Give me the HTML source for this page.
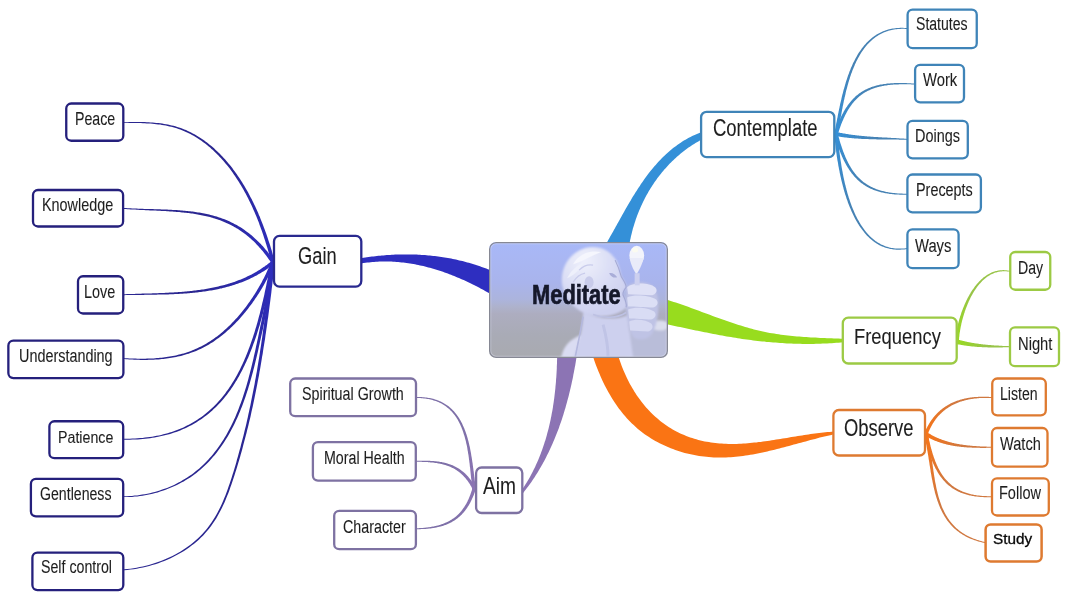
<!DOCTYPE html><html><head><meta charset="utf-8"><style>
html,body{margin:0;padding:0;background:#fff;}
body{width:1067px;height:600px;position:relative;overflow:hidden;font-family:"Liberation Sans",sans-serif;}
.b{position:absolute;background:#fff;box-sizing:content-box;}
.t{position:absolute;white-space:nowrap;color:#1e1e1e;line-height:normal;transform-origin:0 0;-webkit-text-stroke:0.1px #1e1e1e;}
#med{position:absolute;left:489px;top:241.8px;width:179.2px;height:115.8px;border-radius:7px;overflow:hidden;}
#med:after{content:"";position:absolute;inset:0;border-radius:7px;box-shadow:inset 0 0 0 1.3px #868894,inset 0 0 0 2.3px rgba(235,238,255,0.35);}
#med svg{position:absolute;left:0;top:0;}
svg#lines{position:absolute;left:0;top:0;}
</style></head><body>
<svg id="lines" width="1067" height="600" viewBox="0 0 1067 600"><defs><linearGradient id="g0" gradientUnits="userSpaceOnUse" x1="122.5" y1="122.4" x2="273.6" y2="264.1"><stop offset="0" stop-color="#2a2690"/><stop offset="0.45" stop-color="#2a2690"/><stop offset="1" stop-color="#2e2ec0"/></linearGradient><linearGradient id="g1" gradientUnits="userSpaceOnUse" x1="123.0" y1="208.4" x2="273.9" y2="263.6"><stop offset="0" stop-color="#2a2690"/><stop offset="0.45" stop-color="#2a2690"/><stop offset="1" stop-color="#2e2ec0"/></linearGradient><linearGradient id="g2" gradientUnits="userSpaceOnUse" x1="123.0" y1="294.8" x2="273.9" y2="261.4"><stop offset="0" stop-color="#2a2690"/><stop offset="0.45" stop-color="#2a2690"/><stop offset="1" stop-color="#2e2ec0"/></linearGradient><linearGradient id="g3" gradientUnits="userSpaceOnUse" x1="123.0" y1="358.5" x2="273.5" y2="260.8"><stop offset="0" stop-color="#2a2690"/><stop offset="0.45" stop-color="#2a2690"/><stop offset="1" stop-color="#2e2ec0"/></linearGradient><linearGradient id="g4" gradientUnits="userSpaceOnUse" x1="123.0" y1="439.2" x2="273.0" y2="260.5"><stop offset="0" stop-color="#2a2690"/><stop offset="0.45" stop-color="#2a2690"/><stop offset="1" stop-color="#2e2ec0"/></linearGradient><linearGradient id="g5" gradientUnits="userSpaceOnUse" x1="122.8" y1="496.7" x2="272.8" y2="261.5"><stop offset="0" stop-color="#2a2690"/><stop offset="0.45" stop-color="#2a2690"/><stop offset="1" stop-color="#2e2ec0"/></linearGradient><linearGradient id="g6" gradientUnits="userSpaceOnUse" x1="122.6" y1="569.9" x2="273.1" y2="261.5"><stop offset="0" stop-color="#2a2690"/><stop offset="0.45" stop-color="#2a2690"/><stop offset="1" stop-color="#2e2ec0"/></linearGradient><linearGradient id="g7" gradientUnits="userSpaceOnUse" x1="415.0" y1="397.5" x2="474.3" y2="490.5"><stop offset="0" stop-color="#7e70a8"/><stop offset="0.45" stop-color="#7e70a8"/><stop offset="1" stop-color="#8c74b4"/></linearGradient><linearGradient id="g8" gradientUnits="userSpaceOnUse" x1="415.0" y1="461.3" x2="475.2" y2="490.2"><stop offset="0" stop-color="#7e70a8"/><stop offset="0.45" stop-color="#7e70a8"/><stop offset="1" stop-color="#8c74b4"/></linearGradient><linearGradient id="g9" gradientUnits="userSpaceOnUse" x1="415.0" y1="528.8" x2="474.7" y2="486.6"><stop offset="0" stop-color="#7e70a8"/><stop offset="0.45" stop-color="#7e70a8"/><stop offset="1" stop-color="#8c74b4"/></linearGradient><linearGradient id="g10" gradientUnits="userSpaceOnUse" x1="908.5" y1="28.6" x2="835.5" y2="136.5"><stop offset="0" stop-color="#4682b4"/><stop offset="0.45" stop-color="#4682b4"/><stop offset="1" stop-color="#3490d8"/></linearGradient><linearGradient id="g11" gradientUnits="userSpaceOnUse" x1="915.5" y1="84.1" x2="835.2" y2="136.4"><stop offset="0" stop-color="#4682b4"/><stop offset="0.45" stop-color="#4682b4"/><stop offset="1" stop-color="#3490d8"/></linearGradient><linearGradient id="g12" gradientUnits="userSpaceOnUse" x1="909.0" y1="139.5" x2="833.6" y2="133.5"><stop offset="0" stop-color="#4682b4"/><stop offset="0.45" stop-color="#4682b4"/><stop offset="1" stop-color="#3490d8"/></linearGradient><linearGradient id="g13" gradientUnits="userSpaceOnUse" x1="909.0" y1="194.2" x2="835.3" y2="131.6"><stop offset="0" stop-color="#4682b4"/><stop offset="0.45" stop-color="#4682b4"/><stop offset="1" stop-color="#3490d8"/></linearGradient><linearGradient id="g14" gradientUnits="userSpaceOnUse" x1="908.5" y1="248.3" x2="835.8" y2="131.5"><stop offset="0" stop-color="#4682b4"/><stop offset="0.45" stop-color="#4682b4"/><stop offset="1" stop-color="#3490d8"/></linearGradient><linearGradient id="g15" gradientUnits="userSpaceOnUse" x1="1011.2" y1="271.6" x2="956.9" y2="344.2"><stop offset="0" stop-color="#98c448"/><stop offset="0.45" stop-color="#98c448"/><stop offset="1" stop-color="#98dc1e"/></linearGradient><linearGradient id="g16" gradientUnits="userSpaceOnUse" x1="1011.2" y1="346.7" x2="954.6" y2="341.1"><stop offset="0" stop-color="#98c448"/><stop offset="0.45" stop-color="#98c448"/><stop offset="1" stop-color="#98dc1e"/></linearGradient><linearGradient id="g17" gradientUnits="userSpaceOnUse" x1="993.0" y1="397.6" x2="925.1" y2="436.3"><stop offset="0" stop-color="#d07840"/><stop offset="0.45" stop-color="#d07840"/><stop offset="1" stop-color="#fa7414"/></linearGradient><linearGradient id="g18" gradientUnits="userSpaceOnUse" x1="993.0" y1="447.3" x2="923.9" y2="432.7"><stop offset="0" stop-color="#d07840"/><stop offset="0.45" stop-color="#d07840"/><stop offset="1" stop-color="#fa7414"/></linearGradient><linearGradient id="g19" gradientUnits="userSpaceOnUse" x1="993.1" y1="496.7" x2="925.5" y2="431.6"><stop offset="0" stop-color="#d07840"/><stop offset="0.45" stop-color="#d07840"/><stop offset="1" stop-color="#fa7414"/></linearGradient><linearGradient id="g20" gradientUnits="userSpaceOnUse" x1="986.5" y1="542.8" x2="925.5" y2="431.6"><stop offset="0" stop-color="#d07840"/><stop offset="0.45" stop-color="#d07840"/><stop offset="1" stop-color="#fa7414"/></linearGradient></defs><path d="M362.0,258.1 L363.6,257.8 L365.3,257.5 L366.9,257.3 L368.6,257.0 L370.2,256.8 L371.9,256.6 L373.5,256.4 L375.2,256.2 L376.9,256.0 L378.5,255.8 L380.2,255.7 L381.8,255.5 L383.5,255.4 L385.1,255.2 L386.8,255.1 L388.5,255.0 L390.1,254.9 L391.8,254.8 L393.4,254.7 L395.1,254.6 L396.8,254.6 L398.4,254.5 L400.1,254.5 L401.7,254.4 L403.4,254.4 L405.1,254.4 L406.7,254.4 L408.4,254.4 L410.0,254.4 L411.7,254.5 L413.3,254.5 L415.0,254.6 L416.7,254.6 L418.3,254.7 L420.0,254.8 L421.6,254.9 L423.3,255.0 L424.9,255.1 L426.6,255.2 L428.2,255.4 L429.9,255.5 L431.5,255.7 L433.2,255.9 L434.8,256.1 L436.5,256.3 L438.1,256.5 L439.7,256.7 L441.4,257.0 L443.0,257.2 L444.6,257.5 L446.3,257.7 L447.9,258.0 L449.5,258.3 L451.2,258.6 L452.8,259.0 L454.4,259.3 L456.0,259.6 L457.6,260.0 L459.3,260.4 L460.9,260.7 L462.5,261.1 L464.1,261.5 L465.7,262.0 L467.3,262.4 L468.9,262.8 L470.5,263.3 L472.1,263.8 L473.7,264.3 L475.3,264.8 L476.8,265.3 L478.4,265.8 L480.0,266.3 L481.6,266.9 L483.2,267.4 L484.7,268.0 L486.3,268.6 L487.8,269.2 L489.4,269.8 L491.0,270.4 L491.0,294.2 L489.5,293.4 L488.0,292.5 L486.5,291.7 L485.1,290.9 L483.6,290.0 L482.1,289.2 L480.5,288.4 L479.0,287.6 L477.5,286.8 L476.0,286.0 L474.5,285.3 L472.9,284.5 L471.4,283.7 L469.9,283.0 L468.3,282.3 L466.8,281.5 L465.2,280.8 L463.7,280.1 L462.1,279.4 L460.5,278.7 L459.0,278.0 L457.4,277.4 L455.8,276.7 L454.2,276.0 L452.6,275.4 L451.0,274.8 L449.4,274.2 L447.8,273.6 L446.2,273.0 L444.6,272.4 L443.0,271.8 L441.4,271.3 L439.8,270.7 L438.1,270.2 L436.5,269.7 L434.9,269.2 L433.2,268.7 L431.6,268.3 L430.0,267.8 L428.3,267.4 L426.7,266.9 L425.0,266.5 L423.4,266.1 L421.7,265.7 L420.0,265.4 L418.4,265.0 L416.7,264.7 L415.0,264.3 L413.4,264.0 L411.7,263.7 L410.0,263.5 L408.3,263.2 L406.6,263.0 L405.0,262.8 L403.3,262.5 L401.6,262.4 L399.9,262.2 L398.2,262.0 L396.5,261.9 L394.8,261.8 L393.1,261.7 L391.4,261.6 L389.6,261.6 L387.9,261.5 L386.2,261.5 L384.5,261.5 L382.8,261.5 L381.1,261.5 L379.3,261.6 L377.6,261.7 L375.9,261.8 L374.1,261.9 L372.4,262.0 L370.7,262.2 L369.0,262.4 L367.2,262.6 L365.5,262.8 L363.7,263.0 L362.0,263.3 Z" fill="#2e2ec0"/><path d="M606.6,242.9 L607.5,241.4 L608.4,239.8 L609.3,238.2 L610.2,236.6 L611.1,234.9 L612.1,233.3 L613.0,231.7 L613.9,230.1 L614.8,228.4 L615.7,226.8 L616.6,225.2 L617.5,223.5 L618.4,221.9 L619.4,220.2 L620.3,218.6 L621.2,216.9 L622.1,215.2 L623.1,213.6 L624.0,211.9 L624.9,210.3 L625.9,208.6 L626.8,207.0 L627.8,205.3 L628.7,203.7 L629.7,202.0 L630.7,200.4 L631.6,198.8 L632.6,197.1 L633.6,195.5 L634.6,193.9 L635.6,192.3 L636.7,190.7 L637.7,189.1 L638.7,187.5 L639.8,185.9 L640.8,184.3 L641.9,182.7 L643.0,181.2 L644.1,179.6 L645.2,178.1 L646.3,176.6 L647.4,175.1 L648.5,173.6 L649.7,172.1 L650.9,170.6 L652.0,169.2 L653.2,167.7 L654.4,166.3 L655.7,164.9 L656.9,163.5 L658.2,162.1 L659.4,160.7 L660.7,159.4 L662.0,158.1 L663.3,156.8 L664.7,155.5 L666.0,154.2 L667.4,152.9 L668.8,151.7 L670.2,150.5 L671.7,149.3 L673.1,148.1 L674.6,147.0 L676.1,145.9 L677.6,144.8 L679.1,143.7 L680.7,142.7 L682.3,141.6 L683.9,140.6 L685.5,139.7 L687.1,138.7 L688.8,137.8 L690.5,136.9 L692.2,136.1 L694.0,135.2 L695.8,134.4 L697.5,133.7 L699.4,132.9 L701.2,132.2 L701.3,139.7 L699.8,140.5 L698.3,141.4 L696.9,142.2 L695.5,143.1 L694.1,144.0 L692.7,144.8 L691.3,145.8 L689.9,146.7 L688.5,147.6 L687.2,148.6 L685.9,149.6 L684.6,150.6 L683.3,151.6 L682.0,152.6 L680.7,153.6 L679.4,154.7 L678.2,155.7 L676.9,156.8 L675.7,157.9 L674.5,159.0 L673.3,160.2 L672.1,161.3 L671.0,162.4 L669.8,163.6 L668.7,164.8 L667.6,166.0 L666.5,167.2 L665.4,168.4 L664.3,169.6 L663.2,170.9 L662.2,172.1 L661.1,173.4 L660.1,174.7 L659.1,175.9 L658.1,177.2 L657.1,178.6 L656.2,179.9 L655.2,181.2 L654.3,182.6 L653.4,183.9 L652.5,185.3 L651.6,186.7 L650.7,188.0 L649.9,189.4 L649.0,190.8 L648.2,192.3 L647.4,193.7 L646.6,195.1 L645.8,196.6 L645.0,198.0 L644.3,199.5 L643.5,200.9 L642.8,202.4 L642.1,203.9 L641.4,205.4 L640.7,206.9 L640.1,208.4 L639.4,209.9 L638.8,211.4 L638.2,213.0 L637.6,214.5 L637.0,216.0 L636.5,217.6 L635.9,219.1 L635.4,220.7 L634.9,222.3 L634.4,223.8 L633.9,225.4 L633.4,227.0 L632.9,228.6 L632.5,230.2 L632.1,231.8 L631.7,233.4 L631.3,235.0 L630.9,236.6 L630.6,238.2 L630.2,239.8 L629.9,241.5 L629.6,243.1 Z" fill="#3490d8"/><path d="M667.1,299.8 L669.3,300.5 L671.5,301.2 L673.7,301.9 L675.8,302.6 L678.0,303.3 L680.2,304.1 L682.3,304.8 L684.5,305.6 L686.7,306.3 L688.8,307.1 L691.0,307.9 L693.2,308.7 L695.3,309.5 L697.5,310.3 L699.6,311.1 L701.8,311.9 L704.0,312.7 L706.1,313.5 L708.3,314.3 L710.4,315.1 L712.6,315.9 L714.7,316.7 L716.9,317.5 L719.1,318.2 L721.2,319.0 L723.4,319.8 L725.6,320.5 L727.7,321.3 L729.9,322.0 L732.1,322.8 L734.3,323.5 L736.4,324.2 L738.6,324.9 L740.8,325.6 L743.0,326.3 L745.2,326.9 L747.4,327.6 L749.6,328.2 L751.8,328.8 L754.0,329.4 L756.2,329.9 L758.5,330.5 L760.7,331.0 L762.9,331.5 L765.2,332.0 L767.4,332.4 L769.7,332.9 L771.9,333.3 L774.2,333.6 L776.4,334.0 L778.7,334.3 L781.0,334.7 L783.3,335.0 L785.6,335.3 L787.8,335.5 L790.1,335.8 L792.4,336.0 L794.7,336.2 L797.0,336.4 L799.3,336.6 L801.6,336.8 L803.9,337.0 L806.2,337.1 L808.5,337.3 L810.8,337.4 L813.2,337.5 L815.5,337.6 L817.8,337.8 L820.1,337.9 L822.4,338.0 L824.7,338.1 L827.0,338.2 L829.3,338.3 L831.6,338.3 L833.9,338.4 L836.2,338.5 L838.5,338.6 L840.7,338.7 L843.0,338.8 L843.0,342.3 L840.8,342.5 L838.5,342.7 L836.3,342.8 L834.0,343.0 L831.7,343.2 L829.5,343.3 L827.2,343.4 L825.0,343.5 L822.7,343.6 L820.5,343.7 L818.2,343.8 L816.0,343.8 L813.7,343.9 L811.5,343.9 L809.2,343.9 L807.0,343.9 L804.7,343.9 L802.5,343.9 L800.2,343.8 L798.0,343.8 L795.7,343.7 L793.5,343.7 L791.3,343.6 L789.0,343.5 L786.8,343.4 L784.5,343.2 L782.3,343.1 L780.0,343.0 L777.8,342.8 L775.6,342.6 L773.3,342.5 L771.1,342.3 L768.9,342.1 L766.6,341.9 L764.4,341.6 L762.2,341.4 L759.9,341.2 L757.7,340.9 L755.5,340.7 L753.2,340.4 L751.0,340.1 L748.8,339.8 L746.6,339.5 L744.3,339.2 L742.1,338.9 L739.9,338.5 L737.7,338.2 L735.5,337.8 L733.2,337.5 L731.0,337.1 L728.8,336.7 L726.6,336.4 L724.4,336.0 L722.2,335.6 L719.9,335.2 L717.7,334.8 L715.5,334.3 L713.3,333.9 L711.1,333.5 L708.9,333.1 L706.7,332.6 L704.5,332.2 L702.3,331.7 L700.1,331.3 L697.9,330.8 L695.7,330.4 L693.5,329.9 L691.2,329.5 L689.0,329.0 L686.8,328.5 L684.6,328.1 L682.4,327.6 L680.2,327.1 L678.0,326.7 L675.8,326.2 L673.6,325.7 L671.4,325.3 L669.2,324.8 L667.0,324.3 Z" fill="#98dc1e"/><path d="M592.7,355.8 L593.5,358.1 L594.3,360.4 L595.1,362.7 L595.9,365.0 L596.8,367.3 L597.7,369.6 L598.6,371.8 L599.6,374.1 L600.6,376.4 L601.6,378.7 L602.6,380.9 L603.7,383.2 L604.8,385.4 L605.9,387.6 L607.1,389.8 L608.3,392.0 L609.5,394.1 L610.8,396.3 L612.1,398.4 L613.4,400.5 L614.7,402.6 L616.1,404.6 L617.6,406.7 L619.0,408.7 L620.5,410.6 L622.0,412.6 L623.6,414.5 L625.2,416.3 L626.8,418.2 L628.5,420.0 L630.2,421.7 L631.9,423.5 L633.7,425.1 L635.5,426.8 L637.3,428.4 L639.2,429.9 L641.1,431.4 L643.0,432.9 L645.0,434.4 L647.0,435.7 L649.0,437.1 L651.1,438.4 L653.2,439.7 L655.3,440.9 L657.4,442.1 L659.6,443.2 L661.8,444.3 L664.0,445.3 L666.2,446.3 L668.5,447.3 L670.7,448.2 L673.0,449.1 L675.3,449.9 L677.7,450.7 L680.0,451.5 L682.3,452.2 L684.7,452.9 L687.1,453.5 L689.5,454.1 L691.9,454.6 L694.3,455.1 L696.7,455.5 L699.1,455.9 L701.5,456.3 L704.0,456.6 L706.4,456.8 L708.8,457.1 L711.3,457.3 L713.7,457.4 L716.2,457.5 L718.6,457.5 L721.0,457.5 L723.5,457.5 L725.9,457.4 L728.4,457.3 L730.8,457.2 L733.3,457.0 L735.7,456.8 L738.1,456.5 L740.6,456.2 L743.0,455.9 L745.5,455.6 L747.9,455.2 L750.3,454.8 L752.8,454.4 L755.2,453.9 L757.6,453.5 L760.0,453.0 L762.5,452.5 L764.9,451.9 L767.3,451.4 L769.7,450.8 L772.2,450.3 L774.6,449.7 L777.0,449.1 L779.4,448.5 L781.8,447.8 L784.2,447.2 L786.6,446.6 L789.0,445.9 L791.4,445.3 L793.8,444.6 L796.2,444.0 L798.5,443.3 L800.9,442.7 L803.3,442.0 L805.7,441.4 L808.0,440.7 L810.4,440.1 L812.7,439.5 L815.1,438.9 L817.4,438.2 L819.8,437.6 L822.1,437.1 L824.4,436.5 L826.8,435.9 L829.1,435.4 L831.4,434.9 L833.7,434.3 L833.7,431.6 L831.6,431.7 L829.6,431.9 L827.5,432.1 L825.4,432.3 L823.3,432.5 L821.2,432.7 L819.1,433.0 L817.0,433.2 L814.9,433.5 L812.8,433.8 L810.6,434.1 L808.5,434.4 L806.4,434.7 L804.2,435.0 L802.1,435.4 L799.9,435.7 L797.8,436.1 L795.6,436.4 L793.5,436.8 L791.3,437.1 L789.1,437.5 L787.0,437.9 L784.8,438.2 L782.6,438.6 L780.4,438.9 L778.3,439.3 L776.1,439.6 L773.9,440.0 L771.7,440.3 L769.5,440.7 L767.4,441.0 L765.2,441.3 L763.0,441.6 L760.8,441.9 L758.6,442.1 L756.4,442.4 L754.2,442.6 L752.1,442.8 L749.9,443.1 L747.7,443.2 L745.5,443.4 L743.3,443.6 L741.2,443.7 L739.0,443.8 L736.8,443.9 L734.7,443.9 L732.5,443.9 L730.3,443.9 L728.2,443.9 L726.0,443.8 L723.9,443.7 L721.7,443.6 L719.6,443.5 L717.4,443.3 L715.3,443.0 L713.1,442.8 L711.0,442.5 L708.9,442.1 L706.8,441.8 L704.7,441.4 L702.6,440.9 L700.5,440.4 L698.4,439.9 L696.3,439.3 L694.3,438.7 L692.2,438.1 L690.2,437.4 L688.2,436.7 L686.2,435.9 L684.2,435.1 L682.2,434.3 L680.3,433.4 L678.4,432.5 L676.4,431.5 L674.5,430.5 L672.7,429.4 L670.8,428.3 L669.0,427.2 L667.2,426.0 L665.4,424.8 L663.7,423.5 L661.9,422.2 L660.2,420.9 L658.6,419.5 L656.9,418.1 L655.3,416.7 L653.7,415.2 L652.1,413.7 L650.6,412.2 L649.0,410.6 L647.6,409.0 L646.1,407.4 L644.7,405.7 L643.3,404.0 L641.9,402.3 L640.6,400.6 L639.3,398.8 L638.0,397.0 L636.7,395.2 L635.5,393.3 L634.3,391.5 L633.2,389.6 L632.1,387.7 L631.0,385.8 L629.9,383.9 L628.9,381.9 L627.9,380.0 L626.9,378.0 L626.0,376.0 L625.1,374.0 L624.2,372.0 L623.3,370.0 L622.5,368.0 L621.7,366.0 L621.0,364.0 L620.3,361.9 L619.6,359.9 L618.9,357.9 L618.3,355.9 Z" fill="#fa7414"/><path d="M557.1,356.0 L557.1,357.8 L557.1,359.6 L557.0,361.3 L557.0,363.1 L556.9,364.9 L556.8,366.6 L556.8,368.4 L556.7,370.2 L556.6,372.0 L556.5,373.7 L556.4,375.5 L556.3,377.3 L556.1,379.1 L556.0,380.9 L555.9,382.6 L555.7,384.4 L555.5,386.2 L555.4,388.0 L555.2,389.7 L555.0,391.5 L554.8,393.3 L554.6,395.1 L554.4,396.8 L554.2,398.6 L553.9,400.4 L553.7,402.1 L553.4,403.9 L553.1,405.7 L552.9,407.4 L552.6,409.2 L552.3,411.0 L551.9,412.7 L551.6,414.5 L551.3,416.2 L550.9,418.0 L550.6,419.7 L550.2,421.5 L549.8,423.2 L549.4,424.9 L549.0,426.7 L548.6,428.4 L548.2,430.1 L547.7,431.8 L547.2,433.6 L546.8,435.3 L546.3,437.0 L545.8,438.7 L545.3,440.4 L544.7,442.1 L544.2,443.8 L543.6,445.5 L543.1,447.1 L542.5,448.8 L541.9,450.5 L541.3,452.1 L540.7,453.8 L540.0,455.5 L539.4,457.1 L538.7,458.7 L538.0,460.4 L537.3,462.0 L536.6,463.6 L535.8,465.3 L535.1,466.9 L534.3,468.5 L533.5,470.1 L532.7,471.7 L531.9,473.2 L531.1,474.8 L530.2,476.4 L529.4,477.9 L528.5,479.5 L527.6,481.0 L526.7,482.6 L525.7,484.1 L524.8,485.6 L523.8,487.1 L522.8,488.6 L521.8,490.1 L522.3,494.0 L523.5,492.5 L524.6,491.0 L525.8,489.5 L526.9,488.0 L528.1,486.5 L529.2,485.0 L530.3,483.4 L531.4,481.9 L532.5,480.3 L533.5,478.7 L534.6,477.2 L535.6,475.6 L536.6,474.0 L537.6,472.4 L538.6,470.8 L539.6,469.1 L540.5,467.5 L541.5,465.8 L542.4,464.2 L543.3,462.5 L544.2,460.9 L545.1,459.2 L546.0,457.5 L546.8,455.8 L547.7,454.1 L548.5,452.4 L549.3,450.7 L550.1,449.0 L550.9,447.3 L551.7,445.5 L552.5,443.8 L553.2,442.0 L554.0,440.3 L554.7,438.5 L555.4,436.8 L556.1,435.0 L556.8,433.2 L557.5,431.5 L558.2,429.7 L558.9,427.9 L559.5,426.1 L560.1,424.3 L560.8,422.5 L561.4,420.7 L562.0,418.9 L562.6,417.1 L563.2,415.2 L563.7,413.4 L564.3,411.6 L564.8,409.8 L565.4,407.9 L565.9,406.1 L566.4,404.3 L566.9,402.4 L567.4,400.6 L567.9,398.7 L568.4,396.9 L568.9,395.0 L569.3,393.2 L569.8,391.3 L570.2,389.5 L570.7,387.6 L571.1,385.8 L571.5,383.9 L571.9,382.1 L572.3,380.2 L572.7,378.4 L573.1,376.5 L573.4,374.6 L573.8,372.8 L574.1,370.9 L574.5,369.1 L574.8,367.2 L575.2,365.4 L575.5,363.5 L575.8,361.7 L576.1,359.8 L576.4,357.9 L576.7,356.1 Z" fill="#8c74b4"/><path d="M122.5,122.8 L124.0,122.8 L125.8,122.8 L127.6,122.8 L129.5,122.9 L131.4,122.9 L133.3,122.9 L135.2,122.9 L137.1,123.0 L139.0,123.0 L140.9,123.1 L142.8,123.2 L144.8,123.3 L146.7,123.4 L148.6,123.5 L150.5,123.6 L152.5,123.8 L154.4,124.0 L156.3,124.2 L158.2,124.4 L160.1,124.6 L162.0,124.9 L163.9,125.2 L165.8,125.6 L167.6,126.0 L169.5,126.4 L171.3,126.8 L173.1,127.3 L174.9,127.8 L176.7,128.3 L178.5,128.9 L180.2,129.6 L182.0,130.2 L183.7,130.9 L185.4,131.7 L187.1,132.4 L188.7,133.2 L190.4,134.1 L192.0,134.9 L193.6,135.8 L195.2,136.8 L196.8,137.7 L198.3,138.7 L199.8,139.7 L201.4,140.8 L202.9,141.9 L204.4,143.0 L205.8,144.1 L207.3,145.3 L208.7,146.4 L210.1,147.6 L211.5,148.9 L212.9,150.1 L214.3,151.4 L215.6,152.7 L216.9,154.0 L218.2,155.3 L219.5,156.7 L220.8,158.0 L222.1,159.4 L223.3,160.8 L224.5,162.2 L225.7,163.7 L226.9,165.1 L228.1,166.6 L229.3,168.1 L230.4,169.6 L231.5,171.1 L232.6,172.6 L233.7,174.2 L234.8,175.7 L235.8,177.3 L236.9,178.9 L237.9,180.4 L238.9,182.0 L239.9,183.7 L240.9,185.3 L241.9,186.9 L242.8,188.6 L243.8,190.2 L244.7,191.9 L245.6,193.6 L246.5,195.3 L247.4,196.9 L248.2,198.6 L249.1,200.4 L249.9,202.1 L250.7,203.8 L251.6,205.5 L252.4,207.3 L253.1,209.0 L253.9,210.8 L254.7,212.5 L255.4,214.3 L256.2,216.0 L256.9,217.8 L257.6,219.6 L258.3,221.3 L259.0,223.1 L259.6,224.9 L260.3,226.7 L260.9,228.4 L261.6,230.2 L262.2,232.0 L262.8,233.8 L263.4,235.6 L264.0,237.4 L264.6,239.2 L265.2,240.9 L265.7,242.7 L266.3,244.5 L266.8,246.3 L267.4,248.1 L267.9,249.8 L268.4,251.6 L268.9,253.4 L269.4,255.1 L269.9,256.9 L270.3,258.6 L270.8,260.4 L271.3,262.1 L271.9,264.6 L275.4,263.6 L274.7,261.2 L274.2,259.5 L273.7,257.7 L273.2,256.0 L272.7,254.2 L272.2,252.4 L271.7,250.6 L271.2,248.9 L270.6,247.1 L270.1,245.3 L269.5,243.5 L268.9,241.7 L268.3,239.9 L267.7,238.1 L267.1,236.3 L266.5,234.5 L265.9,232.7 L265.2,230.9 L264.6,229.2 L263.9,227.4 L263.2,225.6 L262.5,223.8 L261.8,222.0 L261.1,220.2 L260.4,218.4 L259.7,216.6 L258.9,214.9 L258.2,213.1 L257.4,211.3 L256.6,209.6 L255.8,207.8 L255.0,206.1 L254.1,204.3 L253.3,202.6 L252.4,200.8 L251.6,199.1 L250.7,197.4 L249.8,195.7 L248.9,194.0 L248.0,192.3 L247.0,190.6 L246.1,188.9 L245.1,187.2 L244.1,185.6 L243.1,183.9 L242.1,182.3 L241.1,180.7 L240.0,179.1 L239.0,177.5 L237.9,175.9 L236.8,174.3 L235.7,172.7 L234.6,171.2 L233.4,169.7 L232.3,168.1 L231.1,166.6 L229.9,165.1 L228.7,163.7 L227.5,162.2 L226.2,160.8 L225.0,159.3 L223.7,157.9 L222.4,156.5 L221.1,155.2 L219.8,153.8 L218.4,152.5 L217.1,151.2 L215.7,149.9 L214.3,148.6 L212.9,147.3 L211.4,146.1 L210.0,144.9 L208.5,143.7 L207.0,142.6 L205.5,141.4 L204.0,140.3 L202.4,139.2 L200.9,138.2 L199.3,137.2 L197.7,136.2 L196.1,135.2 L194.5,134.3 L192.8,133.4 L191.1,132.5 L189.5,131.7 L187.8,130.9 L186.0,130.1 L184.3,129.4 L182.6,128.7 L180.8,128.1 L179.0,127.4 L177.2,126.9 L175.4,126.3 L173.5,125.8 L171.7,125.4 L169.8,124.9 L167.9,124.5 L166.0,124.2 L164.1,123.9 L162.2,123.6 L160.3,123.3 L158.4,123.1 L156.4,122.9 L154.5,122.7 L152.6,122.5 L150.6,122.4 L148.7,122.3 L146.7,122.2 L144.8,122.1 L142.9,122.0 L140.9,122.0 L139.0,121.9 L137.1,121.9 L135.2,121.9 L133.3,121.9 L131.4,121.9 L129.5,121.9 L127.6,121.9 L125.8,121.9 L124.0,121.9 L122.5,121.9 Z" fill="url(#g0)"/><path d="M123.0,208.9 L124.5,209.0 L126.0,209.1 L127.6,209.2 L129.1,209.3 L130.6,209.4 L132.1,209.5 L133.6,209.5 L135.2,209.6 L136.7,209.7 L138.2,209.8 L139.7,209.9 L141.1,209.9 L142.6,210.0 L144.1,210.1 L145.6,210.2 L147.0,210.2 L148.5,210.3 L150.0,210.4 L151.4,210.4 L152.9,210.5 L154.3,210.6 L155.7,210.6 L157.2,210.7 L158.6,210.8 L160.0,210.8 L161.4,210.9 L162.8,211.0 L164.2,211.1 L165.6,211.1 L167.0,211.2 L168.4,211.3 L169.8,211.4 L171.2,211.5 L172.5,211.6 L173.9,211.7 L175.3,211.8 L176.6,211.9 L178.0,212.0 L179.3,212.1 L180.7,212.2 L182.0,212.4 L183.3,212.5 L184.6,212.7 L186.0,212.8 L187.3,213.0 L188.6,213.1 L189.9,213.3 L191.2,213.5 L192.5,213.6 L193.7,213.8 L195.0,214.0 L196.3,214.2 L197.6,214.5 L198.8,214.7 L200.1,214.9 L201.3,215.2 L202.6,215.4 L203.8,215.7 L205.1,215.9 L206.3,216.2 L207.5,216.5 L208.7,216.8 L210.0,217.1 L211.2,217.5 L212.4,217.8 L213.6,218.2 L214.8,218.5 L216.0,218.9 L217.1,219.3 L218.3,219.7 L219.5,220.1 L220.7,220.6 L221.8,221.0 L223.0,221.5 L224.1,221.9 L225.3,222.4 L226.4,222.9 L227.6,223.4 L228.7,224.0 L229.8,224.5 L230.9,225.1 L232.1,225.7 L233.2,226.3 L234.3,226.9 L235.4,227.5 L236.5,228.2 L237.6,228.8 L238.7,229.5 L239.7,230.2 L240.8,230.9 L241.9,231.7 L243.0,232.4 L244.0,233.2 L245.1,234.0 L246.1,234.8 L247.2,235.7 L248.2,236.5 L249.3,237.4 L250.3,238.3 L251.3,239.2 L252.4,240.2 L253.4,241.1 L254.4,242.1 L255.4,243.1 L256.4,244.2 L257.4,245.2 L258.4,246.3 L259.4,247.4 L260.4,248.5 L261.4,249.7 L262.4,250.8 L263.4,252.0 L264.3,253.2 L265.3,254.5 L266.3,255.8 L267.2,257.1 L268.2,258.4 L269.1,259.7 L270.1,261.1 L271.0,262.5 L272.4,264.6 L275.4,262.6 L274.0,260.5 L273.0,259.1 L272.0,257.7 L271.0,256.3 L270.0,255.0 L269.0,253.7 L268.0,252.4 L267.0,251.1 L265.9,249.9 L264.9,248.7 L263.9,247.5 L262.9,246.3 L261.8,245.2 L260.8,244.1 L259.7,243.0 L258.7,241.9 L257.6,240.9 L256.6,239.9 L255.5,238.9 L254.4,237.9 L253.4,236.9 L252.3,236.0 L251.2,235.1 L250.1,234.2 L249.0,233.3 L247.9,232.5 L246.8,231.7 L245.7,230.9 L244.6,230.1 L243.5,229.3 L242.4,228.6 L241.3,227.8 L240.1,227.1 L239.0,226.5 L237.9,225.8 L236.7,225.1 L235.6,224.5 L234.4,223.9 L233.3,223.3 L232.1,222.7 L231.0,222.2 L229.8,221.6 L228.6,221.1 L227.5,220.6 L226.3,220.1 L225.1,219.6 L223.9,219.1 L222.7,218.7 L221.5,218.2 L220.3,217.8 L219.1,217.4 L217.9,217.0 L216.7,216.6 L215.5,216.3 L214.2,215.9 L213.0,215.6 L211.8,215.2 L210.5,214.9 L209.3,214.6 L208.0,214.3 L206.8,214.0 L205.5,213.8 L204.3,213.5 L203.0,213.3 L201.7,213.0 L200.5,212.8 L199.2,212.6 L197.9,212.4 L196.6,212.2 L195.3,212.0 L194.0,211.8 L192.7,211.6 L191.4,211.5 L190.1,211.3 L188.8,211.2 L187.5,211.0 L186.2,210.9 L184.8,210.8 L183.5,210.7 L182.2,210.5 L180.8,210.4 L179.5,210.3 L178.1,210.2 L176.8,210.1 L175.4,210.1 L174.0,210.0 L172.6,209.9 L171.3,209.8 L169.9,209.8 L168.5,209.7 L167.1,209.6 L165.7,209.6 L164.3,209.5 L162.9,209.5 L161.5,209.4 L160.1,209.3 L158.7,209.3 L157.2,209.3 L155.8,209.2 L154.4,209.2 L152.9,209.1 L151.5,209.1 L150.0,209.0 L148.6,209.0 L147.1,208.9 L145.6,208.9 L144.2,208.9 L142.7,208.8 L141.2,208.8 L139.7,208.7 L138.2,208.7 L136.7,208.6 L135.2,208.5 L133.7,208.5 L132.2,208.4 L130.7,208.3 L129.1,208.3 L127.6,208.2 L126.1,208.1 L124.5,208.0 L123.0,208.0 Z" fill="url(#g1)"/><path d="M123.0,295.2 L124.5,295.2 L125.8,295.1 L127.0,295.1 L128.3,295.1 L129.5,295.1 L130.8,295.0 L132.1,295.0 L133.3,295.0 L134.6,295.0 L135.9,295.0 L137.1,294.9 L138.4,294.9 L139.7,294.9 L141.0,294.9 L142.3,294.9 L143.5,294.9 L144.8,294.8 L146.1,294.8 L147.4,294.8 L148.7,294.8 L150.0,294.8 L151.3,294.8 L152.6,294.7 L153.9,294.7 L155.2,294.7 L156.5,294.7 L157.8,294.6 L159.1,294.6 L160.4,294.6 L161.7,294.6 L163.0,294.5 L164.3,294.5 L165.6,294.5 L167.0,294.4 L168.3,294.4 L169.6,294.3 L170.9,294.3 L172.2,294.2 L173.5,294.2 L174.8,294.1 L176.1,294.1 L177.4,294.0 L178.7,293.9 L180.1,293.8 L181.4,293.8 L182.7,293.7 L184.0,293.6 L185.3,293.5 L186.6,293.4 L187.9,293.3 L189.2,293.2 L190.5,293.1 L191.8,293.0 L193.1,292.8 L194.5,292.7 L195.8,292.6 L197.1,292.4 L198.4,292.3 L199.7,292.1 L201.0,292.0 L202.2,291.8 L203.5,291.6 L204.8,291.4 L206.1,291.2 L207.4,291.0 L208.7,290.8 L210.0,290.6 L211.3,290.4 L212.6,290.2 L213.8,289.9 L215.1,289.7 L216.4,289.4 L217.7,289.2 L218.9,288.9 L220.2,288.6 L221.5,288.4 L222.7,288.1 L224.0,287.7 L225.2,287.4 L226.5,287.1 L227.7,286.8 L229.0,286.4 L230.2,286.1 L231.5,285.7 L232.7,285.3 L233.9,284.9 L235.2,284.5 L236.4,284.1 L237.6,283.7 L238.8,283.3 L240.0,282.8 L241.2,282.4 L242.5,281.9 L243.7,281.5 L244.9,281.0 L246.0,280.5 L247.2,279.9 L248.4,279.4 L249.6,278.9 L250.8,278.3 L251.9,277.8 L253.1,277.2 L254.3,276.6 L255.4,276.0 L256.6,275.4 L257.7,274.7 L258.8,274.1 L260.0,273.4 L261.1,272.8 L262.2,272.1 L263.3,271.4 L264.5,270.7 L265.6,269.9 L266.7,269.2 L267.8,268.4 L268.8,267.6 L269.9,266.8 L271.0,266.0 L272.1,265.2 L273.1,264.4 L275.1,262.8 L272.8,260.0 L270.9,261.6 L269.9,262.5 L268.8,263.3 L267.8,264.1 L266.8,264.9 L265.7,265.6 L264.7,266.4 L263.6,267.1 L262.6,267.8 L261.5,268.6 L260.5,269.3 L259.4,269.9 L258.3,270.6 L257.2,271.3 L256.1,271.9 L255.0,272.6 L253.9,273.2 L252.8,273.8 L251.7,274.4 L250.5,275.0 L249.4,275.5 L248.3,276.1 L247.1,276.6 L246.0,277.2 L244.8,277.7 L243.7,278.2 L242.5,278.7 L241.4,279.2 L240.2,279.7 L239.0,280.1 L237.8,280.6 L236.6,281.0 L235.4,281.4 L234.3,281.9 L233.1,282.3 L231.9,282.7 L230.6,283.1 L229.4,283.4 L228.2,283.8 L227.0,284.2 L225.8,284.5 L224.6,284.9 L223.3,285.2 L222.1,285.5 L220.9,285.8 L219.6,286.1 L218.4,286.4 L217.1,286.7 L215.9,287.0 L214.6,287.3 L213.4,287.5 L212.1,287.8 L210.8,288.0 L209.6,288.3 L208.3,288.5 L207.0,288.7 L205.8,288.9 L204.5,289.2 L203.2,289.4 L201.9,289.6 L200.7,289.7 L199.4,289.9 L198.1,290.1 L196.8,290.3 L195.5,290.4 L194.2,290.6 L192.9,290.7 L191.6,290.9 L190.3,291.0 L189.0,291.2 L187.7,291.3 L186.4,291.4 L185.1,291.5 L183.8,291.7 L182.5,291.8 L181.2,291.9 L179.9,292.0 L178.6,292.1 L177.3,292.2 L176.0,292.2 L174.7,292.3 L173.4,292.4 L172.1,292.5 L170.8,292.6 L169.5,292.6 L168.2,292.7 L166.9,292.8 L165.6,292.8 L164.3,292.9 L163.0,292.9 L161.7,293.0 L160.4,293.1 L159.1,293.1 L157.8,293.2 L156.5,293.2 L155.2,293.2 L153.9,293.3 L152.6,293.3 L151.3,293.4 L150.0,293.4 L148.7,293.5 L147.4,293.5 L146.1,293.5 L144.8,293.6 L143.5,293.6 L142.2,293.6 L141.0,293.7 L139.7,293.7 L138.4,293.8 L137.1,293.8 L135.8,293.8 L134.6,293.9 L133.3,293.9 L132.0,294.0 L130.8,294.0 L129.5,294.0 L128.2,294.1 L127.0,294.1 L125.7,294.2 L124.5,294.2 L123.0,294.3 Z" fill="url(#g2)"/><path d="M122.9,359.0 L124.4,359.1 L126.0,359.2 L127.6,359.3 L129.2,359.4 L130.8,359.5 L132.4,359.6 L134.1,359.7 L135.7,359.7 L137.3,359.8 L138.9,359.8 L140.6,359.9 L142.2,359.9 L143.8,359.9 L145.5,359.9 L147.1,359.9 L148.7,359.8 L150.4,359.8 L152.0,359.8 L153.6,359.7 L155.3,359.6 L156.9,359.5 L158.5,359.4 L160.2,359.3 L161.8,359.1 L163.4,358.9 L165.0,358.8 L166.6,358.6 L168.2,358.3 L169.9,358.1 L171.5,357.8 L173.0,357.6 L174.6,357.3 L176.2,357.0 L177.8,356.6 L179.4,356.3 L180.9,355.9 L182.5,355.5 L184.0,355.1 L185.6,354.6 L187.1,354.1 L188.6,353.7 L190.2,353.1 L191.7,352.6 L193.2,352.1 L194.7,351.5 L196.1,350.9 L197.6,350.2 L199.1,349.6 L200.5,348.9 L202.0,348.2 L203.4,347.5 L204.8,346.8 L206.2,346.0 L207.6,345.2 L209.0,344.4 L210.3,343.6 L211.7,342.7 L213.1,341.9 L214.4,341.0 L215.7,340.1 L217.0,339.1 L218.3,338.2 L219.6,337.2 L220.9,336.3 L222.2,335.3 L223.4,334.2 L224.7,333.2 L225.9,332.2 L227.1,331.1 L228.3,330.0 L229.6,328.9 L230.7,327.8 L231.9,326.7 L233.1,325.5 L234.2,324.4 L235.4,323.2 L236.5,322.1 L237.6,320.9 L238.8,319.7 L239.9,318.5 L240.9,317.2 L242.0,316.0 L243.1,314.8 L244.1,313.5 L245.2,312.2 L246.2,311.0 L247.2,309.7 L248.2,308.4 L249.2,307.1 L250.2,305.8 L251.2,304.5 L252.2,303.2 L253.1,301.8 L254.1,300.5 L255.0,299.1 L255.9,297.8 L256.8,296.4 L257.7,295.1 L258.6,293.7 L259.5,292.3 L260.3,290.9 L261.2,289.6 L262.0,288.2 L262.8,286.8 L263.6,285.4 L264.4,283.9 L265.2,282.5 L266.0,281.1 L266.7,279.7 L267.5,278.3 L268.2,276.8 L268.9,275.4 L269.6,273.9 L270.3,272.5 L271.0,271.1 L271.7,269.6 L272.3,268.2 L272.9,266.7 L273.6,265.2 L274.2,263.8 L275.1,261.5 L271.8,260.1 L270.9,262.4 L270.3,263.9 L269.7,265.3 L269.1,266.8 L268.5,268.2 L267.8,269.6 L267.2,271.1 L266.5,272.5 L265.9,273.9 L265.2,275.3 L264.5,276.7 L263.8,278.2 L263.0,279.6 L262.3,281.0 L261.6,282.4 L260.8,283.8 L260.0,285.2 L259.2,286.6 L258.4,287.9 L257.6,289.3 L256.8,290.7 L256.0,292.1 L255.1,293.4 L254.3,294.8 L253.4,296.1 L252.5,297.5 L251.6,298.8 L250.7,300.1 L249.8,301.4 L248.8,302.8 L247.9,304.1 L246.9,305.4 L246.0,306.7 L245.0,307.9 L244.0,309.2 L243.0,310.5 L242.0,311.7 L241.0,313.0 L240.0,314.2 L238.9,315.5 L237.9,316.7 L236.8,317.9 L235.7,319.1 L234.6,320.3 L233.5,321.4 L232.4,322.6 L231.3,323.8 L230.2,324.9 L229.0,326.0 L227.9,327.1 L226.7,328.2 L225.5,329.3 L224.3,330.3 L223.1,331.4 L221.9,332.4 L220.7,333.4 L219.5,334.4 L218.2,335.4 L217.0,336.4 L215.7,337.3 L214.4,338.3 L213.1,339.2 L211.8,340.0 L210.5,340.9 L209.2,341.8 L207.9,342.6 L206.5,343.4 L205.2,344.2 L203.8,345.0 L202.4,345.7 L201.1,346.4 L199.7,347.1 L198.2,347.8 L196.8,348.5 L195.4,349.1 L193.9,349.7 L192.5,350.3 L191.0,350.9 L189.6,351.4 L188.1,351.9 L186.6,352.4 L185.1,352.9 L183.6,353.4 L182.0,353.8 L180.5,354.2 L179.0,354.6 L177.4,355.0 L175.9,355.4 L174.3,355.7 L172.8,356.0 L171.2,356.3 L169.6,356.6 L168.0,356.8 L166.4,357.1 L164.8,357.3 L163.2,357.5 L161.6,357.7 L160.0,357.8 L158.4,358.0 L156.8,358.1 L155.2,358.3 L153.6,358.4 L151.9,358.5 L150.3,358.5 L148.7,358.6 L147.1,358.6 L145.4,358.7 L143.8,358.7 L142.2,358.7 L140.6,358.7 L138.9,358.7 L137.3,358.7 L135.7,358.6 L134.1,358.6 L132.5,358.6 L130.9,358.5 L129.3,358.4 L127.7,358.3 L126.1,358.3 L124.5,358.2 L123.0,358.1 Z" fill="url(#g3)"/><path d="M123.0,439.6 L124.5,439.7 L127.2,439.7 L129.9,439.7 L132.5,439.6 L135.1,439.5 L137.7,439.4 L140.2,439.2 L142.7,439.0 L145.1,438.8 L147.6,438.5 L150.0,438.2 L152.3,437.8 L154.6,437.5 L156.9,437.1 L159.2,436.6 L161.4,436.1 L163.7,435.6 L165.8,435.1 L168.0,434.5 L170.1,433.9 L172.2,433.3 L174.2,432.6 L176.2,431.9 L178.2,431.2 L180.2,430.4 L182.1,429.6 L184.0,428.8 L185.9,427.9 L187.8,427.0 L189.6,426.1 L191.4,425.2 L193.1,424.2 L194.9,423.2 L196.6,422.2 L198.3,421.1 L199.9,420.0 L201.6,418.9 L203.2,417.8 L204.8,416.6 L206.3,415.4 L207.9,414.2 L209.4,413.0 L210.8,411.7 L212.3,410.4 L213.7,409.1 L215.2,407.8 L216.5,406.4 L217.9,405.0 L219.3,403.6 L220.6,402.2 L221.9,400.7 L223.2,399.2 L224.4,397.7 L225.6,396.2 L226.9,394.7 L228.1,393.1 L229.2,391.5 L230.4,389.9 L231.5,388.3 L232.6,386.7 L233.7,385.0 L234.8,383.3 L235.8,381.6 L236.9,379.9 L237.9,378.1 L238.9,376.4 L239.9,374.6 L240.8,372.8 L241.8,371.0 L242.7,369.2 L243.6,367.3 L244.5,365.5 L245.4,363.6 L246.3,361.7 L247.1,359.8 L248.0,357.9 L248.8,356.0 L249.6,354.0 L250.4,352.0 L251.2,350.1 L252.0,348.1 L252.7,346.1 L253.4,344.1 L254.2,342.0 L254.9,340.0 L255.6,337.9 L256.3,335.9 L257.0,333.8 L257.6,331.7 L258.3,329.6 L258.9,327.5 L259.6,325.4 L260.2,323.3 L260.8,321.1 L261.4,319.0 L262.0,316.8 L262.6,314.7 L263.2,312.5 L263.7,310.3 L264.3,308.1 L264.9,306.0 L265.4,303.8 L265.9,301.6 L266.5,299.3 L267.0,297.1 L267.5,294.9 L268.0,292.7 L268.5,290.4 L269.0,288.2 L269.5,286.0 L270.0,283.7 L270.5,281.5 L271.0,279.2 L271.5,276.9 L271.9,274.7 L272.4,272.4 L272.9,270.2 L273.3,267.9 L273.8,265.6 L274.3,263.3 L274.7,260.9 L271.2,260.2 L270.7,262.7 L270.3,264.9 L269.9,267.2 L269.4,269.5 L269.0,271.7 L268.6,274.0 L268.1,276.3 L267.7,278.5 L267.2,280.8 L266.7,283.0 L266.3,285.3 L265.8,287.5 L265.3,289.7 L264.8,292.0 L264.4,294.2 L263.9,296.4 L263.4,298.6 L262.9,300.8 L262.3,303.0 L261.8,305.2 L261.3,307.4 L260.8,309.6 L260.2,311.7 L259.7,313.9 L259.1,316.1 L258.5,318.2 L258.0,320.3 L257.4,322.5 L256.8,324.6 L256.2,326.7 L255.5,328.8 L254.9,330.9 L254.3,332.9 L253.6,335.0 L253.0,337.1 L252.3,339.1 L251.6,341.1 L250.9,343.1 L250.2,345.1 L249.5,347.1 L248.7,349.1 L248.0,351.1 L247.2,353.0 L246.4,355.0 L245.6,356.9 L244.8,358.8 L244.0,360.7 L243.2,362.6 L242.3,364.4 L241.4,366.3 L240.6,368.1 L239.7,369.9 L238.7,371.7 L237.8,373.5 L236.9,375.2 L235.9,377.0 L234.9,378.7 L233.9,380.4 L232.9,382.1 L231.8,383.8 L230.8,385.4 L229.7,387.1 L228.6,388.7 L227.5,390.3 L226.3,391.8 L225.2,393.4 L224.0,394.9 L222.8,396.4 L221.6,397.9 L220.3,399.4 L219.1,400.8 L217.8,402.3 L216.5,403.7 L215.2,405.0 L213.8,406.4 L212.4,407.7 L211.0,409.0 L209.6,410.3 L208.2,411.6 L206.7,412.8 L205.2,414.0 L203.7,415.2 L202.1,416.4 L200.6,417.5 L199.0,418.6 L197.3,419.7 L195.7,420.7 L194.0,421.8 L192.3,422.8 L190.6,423.7 L188.8,424.7 L187.0,425.6 L185.2,426.5 L183.4,427.4 L181.5,428.2 L179.6,429.0 L177.7,429.8 L175.7,430.5 L173.7,431.2 L171.7,431.9 L169.7,432.6 L167.6,433.2 L165.5,433.8 L163.3,434.3 L161.2,434.9 L159.0,435.4 L156.7,435.8 L154.4,436.3 L152.1,436.7 L149.8,437.0 L147.4,437.3 L145.0,437.6 L142.6,437.9 L140.1,438.1 L137.6,438.3 L135.0,438.5 L132.5,438.6 L129.8,438.7 L127.2,438.7 L124.5,438.7 L123.0,438.7 Z" fill="url(#g4)"/><path d="M122.8,497.1 L124.3,497.1 L126.9,497.1 L129.5,497.0 L132.1,496.9 L134.7,496.6 L137.3,496.4 L139.9,496.1 L142.5,495.7 L145.0,495.3 L147.6,494.8 L150.1,494.3 L152.6,493.7 L155.2,493.1 L157.7,492.4 L160.1,491.6 L162.6,490.8 L165.0,490.0 L167.4,489.1 L169.8,488.1 L172.2,487.1 L174.6,486.1 L176.9,485.0 L179.2,483.8 L181.4,482.6 L183.7,481.4 L185.9,480.1 L188.0,478.8 L190.2,477.4 L192.3,475.9 L194.3,474.4 L196.4,472.9 L198.4,471.3 L200.3,469.7 L202.2,468.0 L204.1,466.3 L206.0,464.5 L207.8,462.7 L209.5,460.9 L211.2,459.0 L212.9,457.1 L214.6,455.2 L216.2,453.2 L217.7,451.2 L219.3,449.1 L220.8,447.1 L222.2,445.0 L223.6,442.9 L225.0,440.7 L226.4,438.6 L227.7,436.4 L229.0,434.2 L230.2,432.0 L231.4,429.7 L232.6,427.5 L233.8,425.2 L234.9,422.9 L236.0,420.6 L237.1,418.3 L238.1,415.9 L239.1,413.6 L240.1,411.2 L241.0,408.8 L242.0,406.4 L242.9,404.0 L243.8,401.6 L244.6,399.2 L245.5,396.8 L246.3,394.3 L247.1,391.8 L247.9,389.4 L248.6,386.9 L249.4,384.4 L250.1,381.9 L250.8,379.5 L251.5,377.0 L252.2,374.5 L252.9,372.0 L253.5,369.4 L254.2,366.9 L254.8,364.4 L255.4,361.9 L256.0,359.4 L256.6,356.9 L257.2,354.4 L257.8,351.9 L258.4,349.3 L258.9,346.8 L259.5,344.3 L260.0,341.8 L260.6,339.3 L261.1,336.8 L261.7,334.3 L262.2,331.9 L262.8,329.4 L263.3,326.9 L263.8,324.4 L264.4,321.9 L264.9,319.5 L265.4,317.0 L265.9,314.5 L266.4,312.0 L266.9,309.6 L267.4,307.1 L267.9,304.6 L268.3,302.1 L268.8,299.6 L269.3,297.1 L269.7,294.6 L270.1,292.1 L270.6,289.6 L271.0,287.1 L271.4,284.6 L271.8,282.1 L272.2,279.6 L272.6,277.0 L272.9,274.5 L273.3,271.9 L273.7,269.4 L274.0,266.8 L274.3,264.2 L274.6,261.8 L271.0,261.3 L270.8,263.8 L270.5,266.4 L270.2,268.9 L269.8,271.5 L269.5,274.0 L269.1,276.5 L268.8,279.1 L268.4,281.6 L268.0,284.1 L267.7,286.6 L267.3,289.1 L266.9,291.6 L266.4,294.1 L266.0,296.6 L265.6,299.0 L265.1,301.5 L264.7,304.0 L264.2,306.5 L263.8,309.0 L263.3,311.4 L262.8,313.9 L262.3,316.4 L261.9,318.8 L261.4,321.3 L260.9,323.8 L260.3,326.3 L259.8,328.8 L259.3,331.2 L258.8,333.7 L258.3,336.2 L257.8,338.7 L257.2,341.2 L256.7,343.7 L256.1,346.2 L255.6,348.7 L255.1,351.2 L254.5,353.7 L253.9,356.3 L253.4,358.8 L252.8,361.3 L252.2,363.8 L251.6,366.3 L251.0,368.8 L250.3,371.3 L249.7,373.8 L249.0,376.3 L248.4,378.8 L247.7,381.3 L247.0,383.7 L246.3,386.2 L245.5,388.7 L244.8,391.1 L244.0,393.6 L243.2,396.0 L242.4,398.4 L241.6,400.8 L240.7,403.2 L239.8,405.6 L238.9,408.0 L238.0,410.4 L237.0,412.7 L236.1,415.1 L235.1,417.4 L234.0,419.7 L233.0,422.0 L231.9,424.3 L230.8,426.5 L229.6,428.8 L228.4,431.0 L227.2,433.2 L226.0,435.4 L224.7,437.5 L223.4,439.7 L222.0,441.8 L220.6,443.9 L219.2,446.0 L217.8,448.0 L216.3,450.0 L214.7,452.0 L213.2,454.0 L211.6,455.9 L209.9,457.8 L208.2,459.7 L206.5,461.5 L204.8,463.3 L203.0,465.1 L201.1,466.8 L199.3,468.4 L197.3,470.1 L195.4,471.6 L193.4,473.2 L191.4,474.7 L189.3,476.1 L187.2,477.5 L185.1,478.8 L182.9,480.1 L180.7,481.4 L178.5,482.6 L176.3,483.7 L174.0,484.9 L171.7,485.9 L169.3,486.9 L167.0,487.9 L164.6,488.8 L162.2,489.6 L159.8,490.4 L157.3,491.2 L154.8,491.9 L152.4,492.6 L149.9,493.2 L147.4,493.7 L144.8,494.2 L142.3,494.6 L139.7,495.0 L137.2,495.4 L134.6,495.6 L132.0,495.9 L129.4,496.0 L126.8,496.2 L124.3,496.2 L122.8,496.2 Z" fill="url(#g5)"/><path d="M122.7,570.3 L124.2,570.2 L127.3,570.0 L130.5,569.6 L133.6,569.2 L136.8,568.7 L139.9,568.1 L143.0,567.5 L146.1,566.8 L149.2,566.0 L152.3,565.1 L155.3,564.2 L158.4,563.2 L161.3,562.1 L164.3,560.9 L167.2,559.7 L170.1,558.4 L173.0,557.1 L175.8,555.6 L178.6,554.1 L181.3,552.6 L184.0,550.9 L186.6,549.2 L189.1,547.4 L191.6,545.6 L194.1,543.7 L196.5,541.7 L198.8,539.7 L201.0,537.6 L203.2,535.4 L205.3,533.1 L207.3,530.8 L209.2,528.5 L211.1,526.0 L212.8,523.5 L214.5,521.0 L216.2,518.4 L217.7,515.7 L219.2,513.0 L220.7,510.3 L222.1,507.5 L223.4,504.7 L224.7,501.9 L225.9,499.0 L227.1,496.1 L228.3,493.2 L229.4,490.2 L230.4,487.3 L231.5,484.3 L232.5,481.3 L233.5,478.3 L234.5,475.3 L235.4,472.3 L236.4,469.3 L237.3,466.3 L238.2,463.3 L239.1,460.2 L240.0,457.2 L240.8,454.2 L241.7,451.2 L242.5,448.2 L243.3,445.1 L244.1,442.1 L244.9,439.1 L245.7,436.0 L246.5,433.0 L247.2,430.0 L248.0,427.0 L248.7,423.9 L249.4,420.9 L250.2,417.9 L250.9,414.8 L251.5,411.8 L252.2,408.7 L252.9,405.7 L253.5,402.7 L254.2,399.6 L254.8,396.6 L255.4,393.5 L256.0,390.5 L256.6,387.4 L257.2,384.4 L257.8,381.3 L258.4,378.3 L259.0,375.2 L259.5,372.1 L260.1,369.1 L260.6,366.0 L261.1,363.0 L261.6,359.9 L262.1,356.8 L262.7,353.8 L263.1,350.7 L263.6,347.6 L264.1,344.6 L264.6,341.5 L265.1,338.4 L265.5,335.3 L266.0,332.3 L266.4,329.2 L266.9,326.1 L267.3,323.0 L267.7,319.9 L268.2,316.9 L268.6,313.8 L269.0,310.7 L269.4,307.6 L269.8,304.5 L270.2,301.4 L270.6,298.3 L271.0,295.2 L271.4,292.1 L271.7,289.0 L272.1,285.9 L272.5,282.8 L272.9,279.7 L273.2,276.6 L273.6,273.5 L273.9,270.4 L274.3,267.3 L274.7,264.2 L274.9,261.7 L271.4,261.3 L271.1,263.8 L270.8,266.9 L270.4,270.0 L270.1,273.1 L269.7,276.2 L269.4,279.3 L269.1,282.4 L268.7,285.5 L268.4,288.6 L268.0,291.7 L267.6,294.8 L267.3,297.9 L266.9,301.0 L266.5,304.1 L266.1,307.2 L265.8,310.3 L265.4,313.4 L265.0,316.4 L264.6,319.5 L264.2,322.6 L263.8,325.7 L263.3,328.7 L262.9,331.8 L262.5,334.9 L262.1,338.0 L261.6,341.0 L261.2,344.1 L260.7,347.2 L260.2,350.2 L259.8,353.3 L259.3,356.4 L258.8,359.4 L258.3,362.5 L257.8,365.5 L257.3,368.6 L256.8,371.7 L256.2,374.7 L255.7,377.8 L255.1,380.8 L254.6,383.9 L254.0,386.9 L253.4,390.0 L252.8,393.0 L252.2,396.0 L251.6,399.1 L251.0,402.1 L250.4,405.2 L249.7,408.2 L249.1,411.2 L248.4,414.3 L247.8,417.3 L247.1,420.3 L246.4,423.4 L245.7,426.4 L244.9,429.4 L244.2,432.5 L243.5,435.5 L242.7,438.5 L241.9,441.5 L241.1,444.5 L240.4,447.6 L239.5,450.6 L238.7,453.6 L237.9,456.6 L237.0,459.6 L236.2,462.7 L235.3,465.7 L234.4,468.7 L233.5,471.7 L232.5,474.7 L231.6,477.7 L230.6,480.7 L229.6,483.7 L228.6,486.6 L227.6,489.6 L226.5,492.5 L225.4,495.4 L224.2,498.3 L223.0,501.2 L221.8,504.0 L220.5,506.8 L219.1,509.5 L217.7,512.2 L216.2,514.9 L214.7,517.5 L213.1,520.1 L211.5,522.6 L209.7,525.1 L207.9,527.5 L206.1,529.8 L204.1,532.1 L202.1,534.3 L199.9,536.5 L197.8,538.6 L195.5,540.6 L193.2,542.6 L190.8,544.5 L188.3,546.3 L185.8,548.1 L183.2,549.8 L180.6,551.4 L177.9,553.0 L175.2,554.5 L172.4,555.9 L169.6,557.3 L166.8,558.6 L163.9,559.8 L160.9,561.0 L158.0,562.1 L155.0,563.1 L152.0,564.0 L148.9,564.9 L145.9,565.7 L142.8,566.5 L139.7,567.1 L136.6,567.7 L133.5,568.2 L130.4,568.7 L127.2,569.0 L124.1,569.3 L122.6,569.4 Z" fill="url(#g6)"/><path d="M415.0,398.0 L416.5,398.0 L417.8,398.0 L419.1,398.0 L420.3,398.1 L421.5,398.2 L422.7,398.3 L423.9,398.4 L425.1,398.5 L426.2,398.7 L427.4,398.9 L428.5,399.1 L429.5,399.3 L430.6,399.5 L431.6,399.8 L432.6,400.1 L433.6,400.4 L434.6,400.7 L435.6,401.0 L436.5,401.3 L437.4,401.7 L438.4,402.1 L439.2,402.5 L440.1,402.9 L441.0,403.3 L441.8,403.8 L442.6,404.3 L443.4,404.7 L444.2,405.2 L445.0,405.7 L445.7,406.3 L446.4,406.8 L447.1,407.4 L447.9,407.9 L448.5,408.5 L449.2,409.1 L449.9,409.7 L450.5,410.4 L451.1,411.0 L451.7,411.6 L452.3,412.3 L452.9,413.0 L453.5,413.7 L454.1,414.4 L454.6,415.1 L455.1,415.8 L455.6,416.6 L456.2,417.3 L456.6,418.1 L457.1,418.8 L457.6,419.6 L458.1,420.4 L458.5,421.2 L458.9,422.0 L459.4,422.9 L459.8,423.7 L460.2,424.5 L460.6,425.4 L460.9,426.3 L461.3,427.1 L461.7,428.0 L462.0,428.9 L462.4,429.8 L462.7,430.7 L463.0,431.6 L463.3,432.5 L463.6,433.5 L463.9,434.4 L464.2,435.3 L464.5,436.3 L464.8,437.2 L465.0,438.2 L465.3,439.2 L465.5,440.1 L465.8,441.1 L466.0,442.1 L466.2,443.1 L466.4,444.1 L466.7,445.1 L466.9,446.1 L467.1,447.1 L467.3,448.1 L467.4,449.1 L467.6,450.2 L467.8,451.2 L468.0,452.2 L468.1,453.2 L468.3,454.3 L468.5,455.3 L468.6,456.3 L468.8,457.4 L468.9,458.4 L469.0,459.4 L469.2,460.5 L469.3,461.5 L469.4,462.6 L469.6,463.6 L469.7,464.7 L469.8,465.7 L469.9,466.7 L470.1,467.8 L470.2,468.8 L470.3,469.9 L470.4,470.9 L470.5,472.0 L470.6,473.0 L470.7,474.0 L470.8,475.1 L470.9,476.1 L471.0,477.1 L471.1,478.2 L471.3,479.2 L471.4,480.2 L471.5,481.2 L471.6,482.2 L471.7,483.2 L471.8,484.2 L471.9,485.2 L472.0,486.2 L472.1,487.2 L472.2,488.2 L472.5,490.7 L476.1,490.2 L475.8,487.8 L475.6,486.8 L475.5,485.8 L475.4,484.8 L475.2,483.8 L475.1,482.8 L475.0,481.8 L474.8,480.8 L474.7,479.8 L474.6,478.8 L474.5,477.8 L474.3,476.7 L474.2,475.7 L474.1,474.7 L473.9,473.7 L473.8,472.6 L473.7,471.6 L473.5,470.5 L473.4,469.5 L473.3,468.5 L473.1,467.4 L473.0,466.4 L472.8,465.3 L472.7,464.3 L472.6,463.2 L472.4,462.2 L472.2,461.1 L472.1,460.1 L471.9,459.0 L471.8,458.0 L471.6,456.9 L471.4,455.9 L471.2,454.8 L471.1,453.8 L470.9,452.8 L470.7,451.7 L470.5,450.7 L470.3,449.7 L470.1,448.6 L469.9,447.6 L469.7,446.6 L469.4,445.6 L469.2,444.5 L469.0,443.5 L468.7,442.5 L468.5,441.5 L468.2,440.5 L467.9,439.5 L467.7,438.5 L467.4,437.5 L467.1,436.6 L466.8,435.6 L466.5,434.6 L466.2,433.7 L465.9,432.7 L465.5,431.8 L465.2,430.8 L464.8,429.9 L464.5,429.0 L464.1,428.1 L463.7,427.2 L463.3,426.3 L462.9,425.4 L462.5,424.5 L462.1,423.6 L461.7,422.8 L461.2,421.9 L460.8,421.1 L460.3,420.2 L459.8,419.4 L459.3,418.6 L458.8,417.8 L458.3,417.0 L457.8,416.2 L457.2,415.4 L456.7,414.7 L456.1,413.9 L455.5,413.2 L454.9,412.5 L454.3,411.8 L453.7,411.1 L453.0,410.4 L452.4,409.8 L451.7,409.1 L451.0,408.5 L450.3,407.8 L449.6,407.2 L448.9,406.6 L448.2,406.1 L447.4,405.5 L446.6,405.0 L445.8,404.4 L445.0,403.9 L444.2,403.4 L443.4,402.9 L442.5,402.5 L441.6,402.0 L440.7,401.6 L439.8,401.2 L438.9,400.8 L438.0,400.4 L437.0,400.1 L436.0,399.7 L435.0,399.4 L434.0,399.1 L433.0,398.8 L431.9,398.6 L430.9,398.3 L429.8,398.1 L428.7,397.9 L427.5,397.7 L426.4,397.5 L425.2,397.4 L424.0,397.3 L422.8,397.2 L421.6,397.1 L420.4,397.1 L419.1,397.0 L417.8,397.0 L416.5,397.0 L415.0,397.1 Z" fill="url(#g7)"/><path d="M415.0,461.7 L416.5,461.7 L417.1,461.7 L417.8,461.7 L418.4,461.8 L419.0,461.8 L419.7,461.8 L420.3,461.8 L420.9,461.8 L421.5,461.8 L422.2,461.9 L422.8,461.9 L423.4,461.9 L424.0,461.9 L424.6,462.0 L425.2,462.0 L425.8,462.0 L426.4,462.0 L427.0,462.1 L427.6,462.1 L428.2,462.2 L428.8,462.2 L429.3,462.3 L429.9,462.3 L430.5,462.4 L431.1,462.4 L431.6,462.5 L432.2,462.5 L432.8,462.6 L433.3,462.6 L433.9,462.7 L434.4,462.8 L435.0,462.9 L435.5,462.9 L436.1,463.0 L436.6,463.1 L437.2,463.2 L437.7,463.3 L438.2,463.4 L438.8,463.5 L439.3,463.6 L439.8,463.7 L440.4,463.8 L440.9,463.9 L441.4,464.0 L441.9,464.1 L442.4,464.3 L442.9,464.4 L443.4,464.5 L443.9,464.7 L444.4,464.8 L444.9,464.9 L445.4,465.1 L445.9,465.2 L446.4,465.4 L446.9,465.6 L447.4,465.7 L447.8,465.9 L448.3,466.1 L448.8,466.3 L449.2,466.4 L449.7,466.6 L450.2,466.8 L450.6,467.0 L451.1,467.2 L451.6,467.5 L452.0,467.7 L452.5,467.9 L452.9,468.1 L453.3,468.3 L453.8,468.6 L454.2,468.8 L454.7,469.1 L455.1,469.3 L455.5,469.6 L455.9,469.9 L456.4,470.1 L456.8,470.4 L457.2,470.7 L457.6,471.0 L458.0,471.3 L458.4,471.6 L458.9,471.9 L459.3,472.2 L459.7,472.5 L460.1,472.8 L460.5,473.2 L460.8,473.5 L461.2,473.8 L461.6,474.2 L462.0,474.6 L462.4,474.9 L462.8,475.3 L463.2,475.7 L463.5,476.1 L463.9,476.5 L464.3,476.9 L464.7,477.3 L465.0,477.7 L465.4,478.1 L465.7,478.5 L466.1,479.0 L466.5,479.4 L466.8,479.9 L467.2,480.3 L467.5,480.8 L467.9,481.3 L468.2,481.8 L468.5,482.3 L468.9,482.8 L469.2,483.3 L469.6,483.8 L469.9,484.3 L470.2,484.8 L470.5,485.4 L470.9,485.9 L471.2,486.5 L471.5,487.1 L471.8,487.7 L472.1,488.2 L472.5,488.8 L473.6,491.1 L476.8,489.3 L475.5,487.2 L475.2,486.6 L474.8,485.9 L474.5,485.4 L474.1,484.8 L473.8,484.2 L473.4,483.6 L473.0,483.1 L472.7,482.5 L472.3,482.0 L471.9,481.4 L471.5,480.9 L471.2,480.4 L470.8,479.9 L470.4,479.4 L470.0,478.9 L469.6,478.4 L469.2,477.9 L468.8,477.5 L468.4,477.0 L468.0,476.6 L467.6,476.1 L467.2,475.7 L466.8,475.2 L466.4,474.8 L466.0,474.4 L465.6,474.0 L465.2,473.6 L464.8,473.2 L464.3,472.8 L463.9,472.5 L463.5,472.1 L463.0,471.7 L462.6,471.4 L462.2,471.0 L461.7,470.7 L461.3,470.4 L460.9,470.0 L460.4,469.7 L460.0,469.4 L459.5,469.1 L459.1,468.8 L458.6,468.5 L458.2,468.2 L457.7,468.0 L457.2,467.7 L456.8,467.4 L456.3,467.2 L455.8,466.9 L455.4,466.7 L454.9,466.4 L454.4,466.2 L453.9,466.0 L453.5,465.8 L453.0,465.5 L452.5,465.3 L452.0,465.1 L451.5,464.9 L451.0,464.7 L450.5,464.5 L450.0,464.4 L449.5,464.2 L449.0,464.0 L448.5,463.9 L448.0,463.7 L447.5,463.5 L447.0,463.4 L446.5,463.2 L446.0,463.1 L445.5,463.0 L444.9,462.8 L444.4,462.7 L443.9,462.6 L443.4,462.5 L442.8,462.4 L442.3,462.3 L441.8,462.1 L441.2,462.0 L440.7,462.0 L440.2,461.9 L439.6,461.8 L439.1,461.7 L438.5,461.6 L438.0,461.5 L437.4,461.5 L436.9,461.4 L436.3,461.3 L435.7,461.3 L435.2,461.2 L434.6,461.2 L434.1,461.1 L433.5,461.1 L432.9,461.0 L432.3,461.0 L431.8,460.9 L431.2,460.9 L430.6,460.9 L430.0,460.8 L429.4,460.8 L428.8,460.8 L428.2,460.8 L427.6,460.7 L427.1,460.7 L426.5,460.7 L425.8,460.7 L425.2,460.7 L424.6,460.7 L424.0,460.7 L423.4,460.7 L422.8,460.7 L422.2,460.7 L421.6,460.7 L420.9,460.7 L420.3,460.7 L419.7,460.7 L419.0,460.7 L418.4,460.7 L417.8,460.7 L417.1,460.8 L416.5,460.8 L415.0,460.8 Z" fill="url(#g8)"/><path d="M415.0,529.2 L416.5,529.2 L417.3,529.2 L418.0,529.2 L418.8,529.2 L419.5,529.2 L420.3,529.2 L421.0,529.1 L421.7,529.1 L422.5,529.1 L423.2,529.0 L423.9,529.0 L424.6,529.0 L425.3,528.9 L426.0,528.9 L426.7,528.8 L427.4,528.7 L428.1,528.7 L428.8,528.6 L429.5,528.5 L430.1,528.5 L430.8,528.4 L431.5,528.3 L432.1,528.2 L432.8,528.1 L433.5,528.0 L434.1,527.9 L434.7,527.8 L435.4,527.7 L436.0,527.5 L436.6,527.4 L437.3,527.3 L437.9,527.1 L438.5,527.0 L439.1,526.8 L439.7,526.7 L440.3,526.5 L440.9,526.4 L441.5,526.2 L442.1,526.0 L442.7,525.9 L443.3,525.7 L443.9,525.5 L444.4,525.3 L445.0,525.1 L445.6,524.9 L446.1,524.7 L446.7,524.4 L447.2,524.2 L447.8,524.0 L448.3,523.7 L448.9,523.5 L449.4,523.2 L449.9,523.0 L450.4,522.7 L451.0,522.5 L451.5,522.2 L452.0,521.9 L452.5,521.6 L453.0,521.3 L453.5,521.0 L454.0,520.7 L454.5,520.4 L455.0,520.1 L455.5,519.7 L455.9,519.4 L456.4,519.1 L456.9,518.7 L457.3,518.4 L457.8,518.0 L458.3,517.6 L458.7,517.3 L459.2,516.9 L459.6,516.5 L460.0,516.1 L460.5,515.7 L460.9,515.3 L461.3,514.9 L461.8,514.4 L462.2,514.0 L462.6,513.6 L463.0,513.1 L463.4,512.7 L463.8,512.2 L464.2,511.7 L464.6,511.2 L465.0,510.8 L465.4,510.3 L465.7,509.8 L466.1,509.3 L466.5,508.7 L466.8,508.2 L467.2,507.7 L467.6,507.1 L467.9,506.6 L468.3,506.0 L468.6,505.5 L469.0,504.9 L469.3,504.3 L469.6,503.7 L470.0,503.2 L470.3,502.5 L470.6,501.9 L470.9,501.3 L471.2,500.7 L471.5,500.1 L471.8,499.4 L472.1,498.8 L472.4,498.1 L472.7,497.4 L473.0,496.8 L473.3,496.1 L473.6,495.4 L473.9,494.7 L474.1,494.0 L474.4,493.2 L474.7,492.5 L474.9,491.8 L475.2,491.0 L475.4,490.3 L475.7,489.5 L476.4,487.1 L473.0,486.1 L472.3,488.5 L472.1,489.2 L471.9,490.0 L471.7,490.7 L471.4,491.4 L471.2,492.1 L471.0,492.8 L470.7,493.5 L470.5,494.2 L470.2,494.9 L470.0,495.5 L469.7,496.2 L469.5,496.8 L469.2,497.5 L469.0,498.1 L468.7,498.7 L468.4,499.4 L468.1,500.0 L467.8,500.6 L467.6,501.2 L467.3,501.7 L467.0,502.3 L466.7,502.9 L466.4,503.4 L466.1,504.0 L465.8,504.5 L465.5,505.1 L465.1,505.6 L464.8,506.1 L464.5,506.6 L464.2,507.2 L463.8,507.6 L463.5,508.1 L463.1,508.6 L462.8,509.1 L462.4,509.6 L462.1,510.0 L461.7,510.5 L461.4,510.9 L461.0,511.4 L460.6,511.8 L460.3,512.2 L459.9,512.7 L459.5,513.1 L459.1,513.5 L458.7,513.9 L458.3,514.3 L457.9,514.7 L457.5,515.1 L457.1,515.4 L456.7,515.8 L456.3,516.2 L455.9,516.5 L455.4,516.9 L455.0,517.2 L454.6,517.5 L454.1,517.9 L453.7,518.2 L453.2,518.5 L452.8,518.8 L452.3,519.1 L451.8,519.4 L451.4,519.7 L450.9,520.0 L450.4,520.3 L449.9,520.6 L449.5,520.9 L449.0,521.1 L448.5,521.4 L448.0,521.6 L447.5,521.9 L446.9,522.1 L446.4,522.4 L445.9,522.6 L445.4,522.8 L444.9,523.1 L444.3,523.3 L443.8,523.5 L443.2,523.7 L442.7,523.9 L442.1,524.1 L441.6,524.3 L441.0,524.5 L440.4,524.7 L439.9,524.9 L439.3,525.0 L438.7,525.2 L438.1,525.4 L437.5,525.5 L436.9,525.7 L436.3,525.8 L435.7,526.0 L435.1,526.1 L434.4,526.2 L433.8,526.4 L433.2,526.5 L432.6,526.6 L431.9,526.7 L431.3,526.8 L430.6,527.0 L430.0,527.1 L429.3,527.2 L428.6,527.3 L428.0,527.3 L427.3,527.4 L426.6,527.5 L425.9,527.6 L425.2,527.7 L424.5,527.7 L423.8,527.8 L423.1,527.9 L422.4,527.9 L421.7,528.0 L420.9,528.0 L420.2,528.1 L419.5,528.1 L418.7,528.2 L418.0,528.2 L417.2,528.2 L416.5,528.3 L415.0,528.3 Z" fill="url(#g9)"/><path d="M908.5,28.2 L907.0,28.0 L905.6,27.9 L904.3,27.9 L902.9,27.8 L901.6,27.8 L900.3,27.8 L899.0,27.9 L897.7,28.0 L896.4,28.1 L895.2,28.2 L893.9,28.4 L892.7,28.6 L891.5,28.8 L890.4,29.0 L889.2,29.3 L888.1,29.6 L886.9,29.9 L885.8,30.3 L884.8,30.7 L883.7,31.1 L882.6,31.5 L881.6,32.0 L880.6,32.4 L879.6,32.9 L878.6,33.5 L877.6,34.0 L876.6,34.6 L875.7,35.2 L874.8,35.8 L873.9,36.5 L873.0,37.1 L872.1,37.8 L871.2,38.5 L870.4,39.2 L869.5,40.0 L868.7,40.7 L867.9,41.5 L867.1,42.3 L866.3,43.1 L865.6,43.9 L864.8,44.8 L864.1,45.6 L863.4,46.5 L862.6,47.4 L861.9,48.3 L861.3,49.3 L860.6,50.2 L859.9,51.2 L859.3,52.1 L858.6,53.1 L858.0,54.1 L857.4,55.1 L856.8,56.2 L856.2,57.2 L855.6,58.2 L855.1,59.3 L854.5,60.4 L854.0,61.5 L853.4,62.5 L852.9,63.6 L852.4,64.8 L851.9,65.9 L851.4,67.0 L850.9,68.1 L850.5,69.3 L850.0,70.4 L849.5,71.6 L849.1,72.8 L848.7,73.9 L848.2,75.1 L847.8,76.3 L847.4,77.5 L847.0,78.7 L846.6,79.9 L846.2,81.1 L845.8,82.3 L845.5,83.5 L845.1,84.7 L844.8,85.9 L844.4,87.2 L844.1,88.4 L843.7,89.6 L843.4,90.8 L843.1,92.1 L842.8,93.3 L842.4,94.5 L842.1,95.7 L841.8,97.0 L841.5,98.2 L841.3,99.4 L841.0,100.6 L840.7,101.9 L840.4,103.1 L840.1,104.3 L839.9,105.5 L839.6,106.7 L839.4,107.9 L839.1,109.1 L838.9,110.3 L838.6,111.5 L838.4,112.7 L838.1,113.9 L837.9,115.0 L837.7,116.2 L837.5,117.4 L837.2,118.5 L837.0,119.7 L836.8,120.8 L836.6,121.9 L836.3,123.0 L836.1,124.2 L835.9,125.3 L835.7,126.3 L835.5,127.4 L835.3,128.5 L835.1,129.5 L834.9,130.6 L834.7,131.6 L834.5,132.7 L834.3,133.7 L833.8,136.1 L837.3,136.8 L837.7,134.3 L837.9,133.3 L838.1,132.3 L838.3,131.2 L838.5,130.2 L838.7,129.1 L838.9,128.0 L839.1,127.0 L839.3,125.9 L839.4,124.8 L839.6,123.6 L839.8,122.5 L840.0,121.4 L840.2,120.3 L840.4,119.1 L840.6,118.0 L840.8,116.8 L841.1,115.6 L841.3,114.5 L841.5,113.3 L841.7,112.1 L841.9,110.9 L842.1,109.7 L842.4,108.5 L842.6,107.3 L842.8,106.1 L843.1,104.9 L843.3,103.7 L843.6,102.5 L843.8,101.3 L844.1,100.1 L844.4,98.8 L844.6,97.6 L844.9,96.4 L845.2,95.2 L845.5,94.0 L845.7,92.7 L846.0,91.5 L846.3,90.3 L846.7,89.1 L847.0,87.9 L847.3,86.7 L847.6,85.5 L848.0,84.2 L848.3,83.0 L848.7,81.8 L849.0,80.6 L849.4,79.5 L849.8,78.3 L850.1,77.1 L850.5,75.9 L850.9,74.8 L851.3,73.6 L851.8,72.4 L852.2,71.3 L852.6,70.1 L853.1,69.0 L853.5,67.9 L854.0,66.8 L854.5,65.7 L854.9,64.6 L855.4,63.5 L855.9,62.4 L856.4,61.3 L857.0,60.3 L857.5,59.2 L858.0,58.2 L858.6,57.2 L859.2,56.2 L859.7,55.2 L860.3,54.2 L860.9,53.2 L861.5,52.2 L862.2,51.3 L862.8,50.4 L863.5,49.5 L864.1,48.6 L864.8,47.7 L865.5,46.8 L866.2,45.9 L866.9,45.1 L867.6,44.3 L868.4,43.5 L869.1,42.7 L869.9,41.9 L870.7,41.2 L871.5,40.5 L872.3,39.7 L873.1,39.0 L873.9,38.4 L874.8,37.7 L875.7,37.1 L876.5,36.5 L877.4,35.9 L878.4,35.3 L879.3,34.8 L880.2,34.2 L881.2,33.7 L882.2,33.2 L883.2,32.8 L884.2,32.3 L885.2,31.9 L886.3,31.5 L887.3,31.2 L888.4,30.8 L889.5,30.5 L890.6,30.2 L891.8,30.0 L892.9,29.7 L894.1,29.5 L895.3,29.3 L896.5,29.2 L897.8,29.0 L899.0,28.9 L900.3,28.9 L901.6,28.8 L902.9,28.8 L904.2,28.8 L905.6,28.9 L907.0,29.0 L908.5,29.1 Z" fill="url(#g10)"/><path d="M915.5,83.6 L914.0,83.5 L912.9,83.5 L911.8,83.4 L910.7,83.3 L909.6,83.3 L908.5,83.2 L907.4,83.2 L906.4,83.1 L905.3,83.1 L904.3,83.1 L903.3,83.0 L902.2,83.0 L901.2,83.0 L900.2,83.0 L899.2,83.0 L898.2,83.0 L897.3,83.0 L896.3,83.1 L895.3,83.1 L894.4,83.1 L893.5,83.2 L892.5,83.2 L891.6,83.3 L890.7,83.3 L889.8,83.4 L888.9,83.5 L888.0,83.6 L887.1,83.6 L886.3,83.7 L885.4,83.9 L884.6,84.0 L883.7,84.1 L882.9,84.2 L882.1,84.4 L881.2,84.5 L880.4,84.6 L879.6,84.8 L878.8,85.0 L878.0,85.2 L877.3,85.3 L876.5,85.5 L875.7,85.7 L875.0,85.9 L874.2,86.2 L873.5,86.4 L872.7,86.6 L872.0,86.9 L871.3,87.1 L870.6,87.4 L869.9,87.7 L869.2,88.0 L868.5,88.2 L867.8,88.5 L867.1,88.9 L866.4,89.2 L865.8,89.5 L865.1,89.8 L864.4,90.2 L863.8,90.5 L863.2,90.9 L862.5,91.3 L861.9,91.7 L861.3,92.1 L860.7,92.5 L860.0,92.9 L859.4,93.3 L858.8,93.8 L858.3,94.2 L857.7,94.7 L857.1,95.2 L856.5,95.6 L856.0,96.1 L855.4,96.6 L854.8,97.2 L854.3,97.7 L853.7,98.2 L853.2,98.8 L852.7,99.3 L852.1,99.9 L851.6,100.5 L851.1,101.1 L850.6,101.7 L850.1,102.3 L849.6,102.9 L849.1,103.5 L848.6,104.2 L848.1,104.8 L847.6,105.5 L847.2,106.2 L846.7,106.9 L846.2,107.6 L845.7,108.3 L845.3,109.0 L844.8,109.8 L844.4,110.5 L843.9,111.3 L843.5,112.1 L843.1,112.9 L842.6,113.7 L842.2,114.5 L841.8,115.3 L841.4,116.1 L840.9,117.0 L840.5,117.9 L840.1,118.7 L839.7,119.6 L839.3,120.5 L838.9,121.4 L838.5,122.4 L838.1,123.3 L837.7,124.3 L837.3,125.2 L836.9,126.2 L836.6,127.2 L836.2,128.2 L835.8,129.2 L835.4,130.3 L835.1,131.3 L834.7,132.4 L834.3,133.5 L833.5,135.8 L836.9,136.9 L837.7,134.5 L838.0,133.5 L838.4,132.4 L838.7,131.4 L839.0,130.4 L839.4,129.4 L839.7,128.4 L840.1,127.4 L840.4,126.4 L840.8,125.5 L841.1,124.5 L841.5,123.6 L841.9,122.7 L842.2,121.8 L842.6,120.9 L843.0,120.0 L843.4,119.2 L843.7,118.3 L844.1,117.5 L844.5,116.7 L844.9,115.8 L845.3,115.1 L845.7,114.3 L846.1,113.5 L846.5,112.7 L846.9,112.0 L847.3,111.2 L847.7,110.5 L848.2,109.8 L848.6,109.1 L849.0,108.4 L849.5,107.7 L849.9,107.1 L850.4,106.4 L850.8,105.8 L851.3,105.2 L851.7,104.5 L852.2,103.9 L852.6,103.3 L853.1,102.7 L853.6,102.2 L854.1,101.6 L854.6,101.1 L855.1,100.5 L855.6,100.0 L856.1,99.5 L856.6,98.9 L857.1,98.4 L857.6,98.0 L858.1,97.5 L858.7,97.0 L859.2,96.5 L859.7,96.1 L860.3,95.7 L860.8,95.2 L861.4,94.8 L862.0,94.4 L862.5,94.0 L863.1,93.6 L863.7,93.2 L864.3,92.8 L864.9,92.5 L865.5,92.1 L866.1,91.8 L866.8,91.4 L867.4,91.1 L868.0,90.8 L868.7,90.5 L869.3,90.2 L870.0,89.9 L870.6,89.6 L871.3,89.3 L872.0,89.0 L872.7,88.8 L873.4,88.5 L874.1,88.3 L874.8,88.0 L875.5,87.8 L876.2,87.6 L877.0,87.4 L877.7,87.1 L878.5,86.9 L879.2,86.8 L880.0,86.6 L880.8,86.4 L881.6,86.2 L882.4,86.1 L883.2,85.9 L884.0,85.8 L884.8,85.6 L885.6,85.5 L886.5,85.4 L887.3,85.2 L888.2,85.1 L889.1,85.0 L889.9,84.9 L890.8,84.8 L891.7,84.8 L892.6,84.7 L893.5,84.6 L894.5,84.5 L895.4,84.5 L896.4,84.4 L897.3,84.4 L898.3,84.4 L899.2,84.3 L900.2,84.3 L901.2,84.3 L902.2,84.3 L903.2,84.3 L904.3,84.2 L905.3,84.3 L906.4,84.3 L907.4,84.3 L908.5,84.3 L909.6,84.3 L910.6,84.3 L911.7,84.4 L912.9,84.4 L914.0,84.5 L915.5,84.5 Z" fill="url(#g11)"/><path d="M909.0,139.0 L907.5,138.9 L906.9,138.9 L906.3,138.8 L905.7,138.8 L905.1,138.7 L904.5,138.7 L903.9,138.6 L903.3,138.6 L902.7,138.6 L902.1,138.5 L901.5,138.5 L900.9,138.4 L900.3,138.4 L899.7,138.4 L899.1,138.3 L898.5,138.3 L897.9,138.2 L897.3,138.2 L896.7,138.2 L896.1,138.1 L895.5,138.1 L894.9,138.1 L894.3,138.0 L893.7,138.0 L893.1,138.0 L892.5,137.9 L891.9,137.9 L891.3,137.9 L890.7,137.8 L890.1,137.8 L889.5,137.8 L888.9,137.7 L888.3,137.7 L887.7,137.7 L887.1,137.6 L886.5,137.6 L885.9,137.6 L885.3,137.5 L884.7,137.5 L884.0,137.5 L883.4,137.4 L882.8,137.4 L882.2,137.4 L881.6,137.3 L881.0,137.3 L880.4,137.3 L879.8,137.2 L879.2,137.2 L878.6,137.2 L878.0,137.1 L877.4,137.1 L876.8,137.1 L876.2,137.0 L875.6,137.0 L875.0,136.9 L874.4,136.9 L873.8,136.9 L873.2,136.8 L872.6,136.8 L872.0,136.7 L871.4,136.7 L870.8,136.7 L870.2,136.6 L869.6,136.6 L869.0,136.5 L868.4,136.5 L867.8,136.4 L867.2,136.4 L866.6,136.3 L866.0,136.3 L865.4,136.2 L864.8,136.2 L864.2,136.1 L863.6,136.1 L863.0,136.0 L862.4,136.0 L861.8,135.9 L861.2,135.8 L860.6,135.8 L860.0,135.7 L859.4,135.7 L858.8,135.6 L858.2,135.5 L857.6,135.5 L857.0,135.4 L856.4,135.3 L855.8,135.3 L855.2,135.2 L854.7,135.1 L854.1,135.1 L853.5,135.0 L852.9,134.9 L852.3,134.8 L851.7,134.7 L851.1,134.7 L850.5,134.6 L849.9,134.5 L849.3,134.4 L848.7,134.3 L848.1,134.2 L847.5,134.1 L847.0,134.0 L846.4,133.9 L845.8,133.8 L845.2,133.7 L844.6,133.6 L844.0,133.5 L843.4,133.4 L842.8,133.3 L842.2,133.2 L841.7,133.1 L841.1,133.0 L840.5,132.9 L839.9,132.8 L839.3,132.6 L838.7,132.5 L838.2,132.4 L837.6,132.3 L837.0,132.1 L836.4,132.0 L834.0,131.4 L833.1,135.6 L835.6,136.0 L836.2,136.1 L836.8,136.2 L837.4,136.3 L838.0,136.4 L838.6,136.5 L839.2,136.6 L839.8,136.7 L840.4,136.8 L841.0,136.9 L841.6,137.0 L842.2,137.1 L842.8,137.2 L843.4,137.2 L844.0,137.3 L844.6,137.4 L845.2,137.5 L845.9,137.5 L846.5,137.6 L847.1,137.7 L847.7,137.8 L848.3,137.8 L848.9,137.9 L849.5,137.9 L850.1,138.0 L850.7,138.1 L851.3,138.1 L851.9,138.2 L852.5,138.2 L853.1,138.3 L853.7,138.3 L854.3,138.4 L854.9,138.4 L855.5,138.5 L856.1,138.5 L856.7,138.6 L857.3,138.6 L858.0,138.6 L858.6,138.7 L859.2,138.7 L859.8,138.8 L860.4,138.8 L861.0,138.8 L861.6,138.9 L862.2,138.9 L862.8,138.9 L863.4,139.0 L864.0,139.0 L864.6,139.0 L865.2,139.0 L865.8,139.1 L866.4,139.1 L867.0,139.1 L867.6,139.1 L868.2,139.1 L868.9,139.2 L869.5,139.2 L870.1,139.2 L870.7,139.2 L871.3,139.2 L871.9,139.3 L872.5,139.3 L873.1,139.3 L873.7,139.3 L874.3,139.3 L874.9,139.3 L875.5,139.3 L876.1,139.3 L876.7,139.4 L877.3,139.4 L877.9,139.4 L878.5,139.4 L879.1,139.4 L879.7,139.4 L880.4,139.4 L881.0,139.4 L881.6,139.4 L882.2,139.4 L882.8,139.4 L883.4,139.5 L884.0,139.5 L884.6,139.5 L885.2,139.5 L885.8,139.5 L886.4,139.5 L887.0,139.5 L887.6,139.5 L888.2,139.5 L888.8,139.5 L889.4,139.5 L890.0,139.5 L890.6,139.5 L891.2,139.5 L891.8,139.5 L892.4,139.6 L893.0,139.6 L893.6,139.6 L894.2,139.6 L894.8,139.6 L895.5,139.6 L896.1,139.6 L896.7,139.6 L897.3,139.6 L897.9,139.6 L898.5,139.6 L899.1,139.7 L899.7,139.7 L900.3,139.7 L900.9,139.7 L901.5,139.7 L902.1,139.7 L902.7,139.7 L903.3,139.7 L903.9,139.8 L904.5,139.8 L905.1,139.8 L905.7,139.8 L906.3,139.8 L906.9,139.9 L907.5,139.9 L909.0,139.9 Z" fill="url(#g12)"/><path d="M909.0,193.7 L907.5,193.7 L906.4,193.7 L905.3,193.7 L904.2,193.7 L903.1,193.7 L902.0,193.6 L900.9,193.6 L899.9,193.5 L898.8,193.5 L897.8,193.4 L896.8,193.3 L895.8,193.2 L894.8,193.1 L893.8,193.0 L892.9,192.9 L891.9,192.8 L891.0,192.7 L890.0,192.5 L889.1,192.4 L888.2,192.2 L887.3,192.1 L886.4,191.9 L885.5,191.7 L884.7,191.5 L883.8,191.3 L883.0,191.1 L882.2,190.9 L881.3,190.7 L880.5,190.5 L879.7,190.2 L878.9,190.0 L878.2,189.7 L877.4,189.4 L876.6,189.2 L875.9,188.9 L875.1,188.6 L874.4,188.3 L873.7,188.0 L873.0,187.7 L872.3,187.3 L871.6,187.0 L870.9,186.7 L870.2,186.3 L869.6,186.0 L868.9,185.6 L868.3,185.2 L867.6,184.8 L867.0,184.4 L866.4,184.0 L865.8,183.6 L865.2,183.2 L864.6,182.8 L864.0,182.4 L863.4,181.9 L862.8,181.5 L862.3,181.0 L861.7,180.5 L861.2,180.1 L860.6,179.6 L860.1,179.1 L859.6,178.6 L859.0,178.1 L858.5,177.6 L858.0,177.0 L857.5,176.5 L857.0,176.0 L856.5,175.4 L856.1,174.8 L855.6,174.3 L855.1,173.7 L854.7,173.1 L854.2,172.5 L853.8,171.9 L853.3,171.3 L852.9,170.7 L852.4,170.1 L852.0,169.4 L851.6,168.8 L851.2,168.1 L850.8,167.4 L850.4,166.8 L850.0,166.1 L849.6,165.4 L849.2,164.7 L848.8,164.0 L848.4,163.3 L848.0,162.5 L847.7,161.8 L847.3,161.1 L846.9,160.3 L846.6,159.5 L846.2,158.8 L845.9,158.0 L845.5,157.2 L845.2,156.4 L844.9,155.6 L844.5,154.8 L844.2,154.0 L843.9,153.1 L843.5,152.3 L843.2,151.4 L842.9,150.6 L842.6,149.7 L842.3,148.8 L842.0,147.9 L841.7,147.0 L841.4,146.1 L841.1,145.2 L840.8,144.3 L840.5,143.4 L840.2,142.4 L839.9,141.5 L839.6,140.5 L839.4,139.5 L839.1,138.6 L838.8,137.6 L838.5,136.6 L838.2,135.6 L838.0,134.6 L837.7,133.5 L837.1,131.1 L833.6,132.1 L834.3,134.5 L834.6,135.5 L834.9,136.5 L835.2,137.5 L835.5,138.5 L835.8,139.5 L836.1,140.5 L836.4,141.5 L836.7,142.5 L837.1,143.4 L837.4,144.4 L837.7,145.3 L838.0,146.2 L838.3,147.2 L838.7,148.1 L839.0,149.0 L839.3,149.9 L839.7,150.8 L840.0,151.7 L840.4,152.5 L840.7,153.4 L841.1,154.2 L841.4,155.1 L841.8,155.9 L842.1,156.8 L842.5,157.6 L842.9,158.4 L843.3,159.2 L843.6,160.0 L844.0,160.8 L844.4,161.5 L844.8,162.3 L845.2,163.1 L845.6,163.8 L846.0,164.6 L846.4,165.3 L846.8,166.0 L847.3,166.7 L847.7,167.4 L848.1,168.1 L848.6,168.8 L849.0,169.5 L849.5,170.2 L849.9,170.8 L850.4,171.5 L850.8,172.1 L851.3,172.8 L851.8,173.4 L852.3,174.0 L852.8,174.6 L853.3,175.2 L853.8,175.8 L854.3,176.4 L854.8,177.0 L855.3,177.5 L855.8,178.1 L856.4,178.6 L856.9,179.2 L857.5,179.7 L858.0,180.2 L858.6,180.7 L859.2,181.2 L859.7,181.7 L860.3,182.2 L860.9,182.7 L861.5,183.2 L862.1,183.6 L862.8,184.1 L863.4,184.5 L864.0,184.9 L864.7,185.3 L865.3,185.8 L866.0,186.2 L866.6,186.5 L867.3,186.9 L868.0,187.3 L868.7,187.7 L869.4,188.0 L870.1,188.4 L870.8,188.7 L871.5,189.0 L872.3,189.3 L873.0,189.7 L873.7,190.0 L874.5,190.2 L875.3,190.5 L876.1,190.8 L876.8,191.1 L877.6,191.3 L878.4,191.6 L879.3,191.8 L880.1,192.0 L880.9,192.2 L881.8,192.4 L882.6,192.6 L883.5,192.8 L884.4,193.0 L885.3,193.2 L886.2,193.3 L887.1,193.5 L888.0,193.6 L888.9,193.8 L889.8,193.9 L890.8,194.0 L891.7,194.1 L892.7,194.2 L893.7,194.3 L894.7,194.4 L895.7,194.5 L896.7,194.5 L897.7,194.6 L898.8,194.6 L899.8,194.7 L900.9,194.7 L902.0,194.7 L903.0,194.7 L904.1,194.7 L905.3,194.7 L906.4,194.7 L907.5,194.7 L909.0,194.6 Z" fill="url(#g13)"/><path d="M908.4,247.8 L906.9,248.0 L905.5,248.2 L904.2,248.4 L902.8,248.5 L901.5,248.6 L900.2,248.6 L898.9,248.6 L897.6,248.6 L896.4,248.5 L895.1,248.4 L893.9,248.3 L892.7,248.1 L891.5,247.9 L890.4,247.7 L889.2,247.4 L888.1,247.1 L887.0,246.8 L885.9,246.4 L884.8,246.0 L883.7,245.6 L882.7,245.1 L881.7,244.7 L880.7,244.2 L879.7,243.6 L878.7,243.0 L877.7,242.4 L876.8,241.8 L875.8,241.2 L874.9,240.5 L874.0,239.8 L873.1,239.1 L872.2,238.3 L871.3,237.5 L870.5,236.7 L869.7,235.9 L868.8,235.1 L868.0,234.2 L867.2,233.3 L866.5,232.4 L865.7,231.5 L864.9,230.5 L864.2,229.6 L863.5,228.6 L862.8,227.6 L862.1,226.5 L861.4,225.5 L860.7,224.4 L860.0,223.3 L859.4,222.2 L858.8,221.1 L858.1,220.0 L857.5,218.9 L856.9,217.7 L856.3,216.5 L855.7,215.4 L855.2,214.2 L854.6,212.9 L854.1,211.7 L853.6,210.5 L853.0,209.3 L852.5,208.0 L852.0,206.7 L851.5,205.5 L851.1,204.2 L850.6,202.9 L850.1,201.6 L849.7,200.3 L849.3,199.0 L848.8,197.7 L848.4,196.3 L848.0,195.0 L847.6,193.7 L847.2,192.3 L846.9,191.0 L846.5,189.7 L846.2,188.3 L845.8,187.0 L845.5,185.6 L845.1,184.3 L844.8,182.9 L844.5,181.5 L844.2,180.2 L843.9,178.8 L843.6,177.5 L843.3,176.1 L843.1,174.8 L842.8,173.4 L842.6,172.1 L842.3,170.8 L842.1,169.4 L841.8,168.1 L841.6,166.8 L841.4,165.5 L841.2,164.1 L841.0,162.8 L840.8,161.5 L840.6,160.2 L840.4,159.0 L840.2,157.7 L840.1,156.4 L839.9,155.2 L839.7,153.9 L839.6,152.7 L839.4,151.5 L839.3,150.3 L839.2,149.1 L839.0,147.9 L838.9,146.7 L838.8,145.5 L838.7,144.4 L838.6,143.3 L838.5,142.2 L838.4,141.1 L838.3,140.0 L838.2,138.9 L838.1,137.9 L838.0,136.8 L837.9,135.8 L837.8,134.8 L837.8,133.9 L837.6,131.4 L834.0,131.7 L834.2,134.1 L834.3,135.1 L834.4,136.1 L834.5,137.1 L834.6,138.2 L834.7,139.2 L834.8,140.3 L834.9,141.4 L835.1,142.5 L835.2,143.6 L835.3,144.8 L835.5,145.9 L835.6,147.1 L835.7,148.3 L835.9,149.5 L836.1,150.7 L836.2,151.9 L836.4,153.1 L836.6,154.4 L836.7,155.6 L836.9,156.9 L837.1,158.1 L837.3,159.4 L837.5,160.7 L837.8,162.0 L838.0,163.3 L838.2,164.6 L838.4,166.0 L838.7,167.3 L838.9,168.6 L839.2,170.0 L839.5,171.3 L839.7,172.7 L840.0,174.0 L840.3,175.4 L840.6,176.7 L840.9,178.1 L841.2,179.4 L841.5,180.8 L841.9,182.2 L842.2,183.5 L842.6,184.9 L842.9,186.3 L843.3,187.6 L843.6,189.0 L844.0,190.3 L844.4,191.7 L844.8,193.1 L845.2,194.4 L845.7,195.7 L846.1,197.1 L846.5,198.4 L847.0,199.7 L847.5,201.1 L847.9,202.4 L848.4,203.7 L848.9,205.0 L849.4,206.3 L849.9,207.6 L850.5,208.8 L851.0,210.1 L851.6,211.4 L852.1,212.6 L852.7,213.8 L853.3,215.1 L853.9,216.3 L854.5,217.5 L855.1,218.7 L855.7,219.8 L856.4,221.0 L857.0,222.1 L857.7,223.2 L858.4,224.3 L859.1,225.4 L859.8,226.5 L860.5,227.6 L861.3,228.6 L862.0,229.6 L862.8,230.6 L863.6,231.6 L864.3,232.6 L865.1,233.5 L866.0,234.5 L866.8,235.4 L867.6,236.2 L868.5,237.1 L869.4,237.9 L870.3,238.7 L871.2,239.5 L872.1,240.3 L873.0,241.0 L874.0,241.7 L875.0,242.4 L875.9,243.1 L876.9,243.7 L877.9,244.3 L879.0,244.9 L880.0,245.4 L881.1,245.9 L882.1,246.4 L883.2,246.8 L884.3,247.3 L885.5,247.7 L886.6,248.0 L887.8,248.3 L888.9,248.6 L890.1,248.9 L891.3,249.1 L892.5,249.3 L893.8,249.5 L895.0,249.6 L896.3,249.7 L897.6,249.7 L898.9,249.7 L900.2,249.7 L901.6,249.6 L902.9,249.5 L904.3,249.4 L905.7,249.2 L907.1,249.0 L908.6,248.7 Z" fill="url(#g14)"/><path d="M1011.3,271.1 L1009.8,270.8 L1008.9,270.7 L1008.1,270.5 L1007.2,270.4 L1006.4,270.3 L1005.5,270.2 L1004.7,270.2 L1003.8,270.1 L1003.0,270.1 L1002.2,270.2 L1001.4,270.2 L1000.6,270.3 L999.8,270.3 L999.0,270.4 L998.2,270.6 L997.4,270.7 L996.7,270.9 L995.9,271.1 L995.2,271.3 L994.4,271.5 L993.7,271.8 L992.9,272.0 L992.2,272.3 L991.5,272.6 L990.8,273.0 L990.1,273.3 L989.4,273.7 L988.7,274.0 L988.0,274.4 L987.3,274.8 L986.6,275.3 L986.0,275.7 L985.3,276.2 L984.7,276.7 L984.0,277.1 L983.4,277.6 L982.7,278.2 L982.1,278.7 L981.5,279.2 L980.9,279.8 L980.3,280.4 L979.7,281.0 L979.1,281.6 L978.6,282.2 L978.0,282.8 L977.4,283.4 L976.9,284.1 L976.3,284.7 L975.8,285.4 L975.2,286.1 L974.7,286.8 L974.2,287.5 L973.7,288.2 L973.2,288.9 L972.7,289.6 L972.2,290.3 L971.7,291.1 L971.2,291.8 L970.7,292.6 L970.3,293.4 L969.8,294.1 L969.4,294.9 L968.9,295.7 L968.5,296.5 L968.1,297.3 L967.6,298.1 L967.2,298.9 L966.8,299.7 L966.4,300.5 L966.0,301.4 L965.6,302.2 L965.3,303.0 L964.9,303.8 L964.5,304.7 L964.2,305.5 L963.8,306.4 L963.5,307.2 L963.1,308.1 L962.8,308.9 L962.5,309.8 L962.2,310.6 L961.8,311.5 L961.5,312.3 L961.2,313.2 L961.0,314.0 L960.7,314.9 L960.4,315.7 L960.1,316.6 L959.9,317.4 L959.6,318.3 L959.4,319.1 L959.1,320.0 L958.9,320.8 L958.7,321.6 L958.4,322.5 L958.2,323.3 L958.0,324.1 L957.8,325.0 L957.6,325.8 L957.4,326.6 L957.3,327.4 L957.1,328.2 L956.9,329.0 L956.8,329.8 L956.6,330.6 L956.5,331.4 L956.3,332.2 L956.2,333.0 L956.1,333.7 L955.9,334.5 L955.8,335.2 L955.7,336.0 L955.6,336.7 L955.5,337.4 L955.5,338.1 L955.4,338.9 L955.3,339.6 L955.2,340.2 L955.2,340.9 L955.1,341.6 L955.0,344.1 L958.8,344.3 L958.9,341.8 L958.9,341.2 L958.9,340.5 L959.0,339.9 L959.0,339.2 L959.1,338.5 L959.1,337.8 L959.2,337.1 L959.3,336.4 L959.4,335.7 L959.4,335.0 L959.5,334.2 L959.6,333.5 L959.7,332.7 L959.9,332.0 L960.0,331.2 L960.1,330.4 L960.2,329.7 L960.4,328.9 L960.5,328.1 L960.7,327.3 L960.8,326.5 L961.0,325.7 L961.2,324.9 L961.3,324.1 L961.5,323.2 L961.7,322.4 L961.9,321.6 L962.1,320.8 L962.3,319.9 L962.6,319.1 L962.8,318.3 L963.0,317.4 L963.3,316.6 L963.5,315.8 L963.8,314.9 L964.0,314.1 L964.3,313.2 L964.6,312.4 L964.8,311.6 L965.1,310.7 L965.4,309.9 L965.7,309.0 L966.0,308.2 L966.3,307.4 L966.7,306.5 L967.0,305.7 L967.3,304.9 L967.7,304.1 L968.0,303.2 L968.4,302.4 L968.7,301.6 L969.1,300.8 L969.5,300.0 L969.8,299.2 L970.2,298.4 L970.6,297.6 L971.0,296.8 L971.4,296.1 L971.9,295.3 L972.3,294.5 L972.7,293.8 L973.1,293.0 L973.6,292.3 L974.0,291.5 L974.5,290.8 L975.0,290.1 L975.4,289.4 L975.9,288.7 L976.4,288.0 L976.9,287.3 L977.4,286.6 L977.9,286.0 L978.4,285.3 L978.9,284.7 L979.4,284.1 L980.0,283.5 L980.5,282.9 L981.1,282.3 L981.6,281.7 L982.2,281.1 L982.7,280.6 L983.3,280.0 L983.9,279.5 L984.5,279.0 L985.1,278.5 L985.7,278.0 L986.3,277.5 L986.9,277.1 L987.5,276.6 L988.2,276.2 L988.8,275.8 L989.4,275.4 L990.1,275.0 L990.7,274.6 L991.4,274.3 L992.1,274.0 L992.8,273.7 L993.4,273.4 L994.1,273.1 L994.8,272.8 L995.5,272.6 L996.3,272.4 L997.0,272.2 L997.7,272.0 L998.5,271.8 L999.2,271.7 L1000.0,271.6 L1000.7,271.5 L1001.5,271.4 L1002.3,271.3 L1003.0,271.3 L1003.8,271.3 L1004.6,271.3 L1005.4,271.3 L1006.3,271.3 L1007.1,271.4 L1007.9,271.5 L1008.8,271.6 L1009.6,271.8 L1011.1,272.0 Z" fill="url(#g15)"/><path d="M1011.2,346.3 L1009.7,346.2 L1009.3,346.2 L1008.8,346.2 L1008.4,346.1 L1007.9,346.1 L1007.5,346.1 L1007.0,346.1 L1006.6,346.1 L1006.1,346.0 L1005.7,346.0 L1005.3,346.0 L1004.8,346.0 L1004.4,346.0 L1003.9,345.9 L1003.5,345.9 L1003.0,345.9 L1002.6,345.9 L1002.1,345.8 L1001.7,345.8 L1001.3,345.8 L1000.8,345.8 L1000.4,345.7 L999.9,345.7 L999.5,345.7 L999.0,345.7 L998.6,345.6 L998.1,345.6 L997.7,345.6 L997.2,345.6 L996.8,345.5 L996.4,345.5 L995.9,345.5 L995.5,345.5 L995.0,345.4 L994.6,345.4 L994.1,345.4 L993.7,345.3 L993.2,345.3 L992.8,345.3 L992.4,345.2 L991.9,345.2 L991.5,345.2 L991.0,345.1 L990.6,345.1 L990.1,345.1 L989.7,345.0 L989.3,345.0 L988.8,344.9 L988.4,344.9 L987.9,344.9 L987.5,344.8 L987.0,344.8 L986.6,344.7 L986.2,344.7 L985.7,344.7 L985.3,344.6 L984.8,344.6 L984.4,344.5 L984.0,344.5 L983.5,344.4 L983.1,344.4 L982.6,344.3 L982.2,344.3 L981.8,344.2 L981.3,344.2 L980.9,344.1 L980.4,344.1 L980.0,344.0 L979.6,343.9 L979.1,343.9 L978.7,343.8 L978.2,343.8 L977.8,343.7 L977.4,343.6 L976.9,343.6 L976.5,343.5 L976.1,343.5 L975.6,343.4 L975.2,343.3 L974.7,343.3 L974.3,343.2 L973.9,343.1 L973.4,343.0 L973.0,343.0 L972.6,342.9 L972.1,342.8 L971.7,342.7 L971.3,342.7 L970.8,342.6 L970.4,342.5 L970.0,342.4 L969.5,342.3 L969.1,342.3 L968.7,342.2 L968.2,342.1 L967.8,342.0 L967.4,341.9 L966.9,341.8 L966.5,341.7 L966.1,341.6 L965.7,341.5 L965.2,341.4 L964.8,341.3 L964.4,341.2 L963.9,341.1 L963.5,341.0 L963.1,340.9 L962.7,340.8 L962.2,340.7 L961.8,340.6 L961.4,340.5 L961.0,340.4 L960.5,340.3 L960.1,340.2 L959.7,340.1 L959.3,339.9 L958.8,339.8 L958.4,339.7 L958.0,339.6 L957.6,339.5 L955.2,338.8 L954.0,343.4 L956.4,343.9 L956.9,344.0 L957.3,344.1 L957.8,344.2 L958.2,344.3 L958.7,344.4 L959.1,344.5 L959.5,344.6 L960.0,344.7 L960.4,344.8 L960.9,344.8 L961.3,344.9 L961.8,345.0 L962.2,345.1 L962.7,345.2 L963.1,345.2 L963.6,345.3 L964.0,345.4 L964.5,345.4 L964.9,345.5 L965.4,345.6 L965.8,345.7 L966.3,345.7 L966.7,345.8 L967.2,345.8 L967.6,345.9 L968.1,346.0 L968.5,346.0 L968.9,346.1 L969.4,346.1 L969.8,346.2 L970.3,346.2 L970.7,346.3 L971.2,346.3 L971.6,346.4 L972.1,346.4 L972.5,346.5 L973.0,346.5 L973.4,346.6 L973.9,346.6 L974.3,346.6 L974.8,346.7 L975.2,346.7 L975.7,346.7 L976.1,346.8 L976.6,346.8 L977.0,346.9 L977.5,346.9 L977.9,346.9 L978.4,346.9 L978.8,347.0 L979.3,347.0 L979.7,347.0 L980.2,347.1 L980.6,347.1 L981.1,347.1 L981.5,347.1 L982.0,347.2 L982.4,347.2 L982.9,347.2 L983.3,347.2 L983.8,347.2 L984.2,347.2 L984.6,347.3 L985.1,347.3 L985.5,347.3 L986.0,347.3 L986.4,347.3 L986.9,347.3 L987.3,347.3 L987.8,347.4 L988.2,347.4 L988.7,347.4 L989.1,347.4 L989.6,347.4 L990.0,347.4 L990.5,347.4 L990.9,347.4 L991.4,347.4 L991.8,347.4 L992.3,347.4 L992.7,347.4 L993.2,347.4 L993.6,347.4 L994.1,347.4 L994.5,347.4 L995.0,347.4 L995.4,347.4 L995.9,347.4 L996.3,347.4 L996.7,347.4 L997.2,347.4 L997.6,347.4 L998.1,347.4 L998.5,347.4 L999.0,347.4 L999.4,347.4 L999.9,347.4 L1000.3,347.4 L1000.8,347.4 L1001.2,347.4 L1001.7,347.4 L1002.1,347.4 L1002.6,347.4 L1003.0,347.3 L1003.5,347.3 L1003.9,347.3 L1004.3,347.3 L1004.8,347.3 L1005.2,347.3 L1005.7,347.3 L1006.1,347.3 L1006.6,347.3 L1007.0,347.3 L1007.5,347.3 L1007.9,347.2 L1008.4,347.2 L1008.8,347.2 L1009.3,347.2 L1009.7,347.2 L1011.2,347.2 Z" fill="url(#g16)"/><path d="M993.0,397.1 L991.5,397.0 L990.8,397.0 L990.0,396.9 L989.3,396.9 L988.6,396.8 L987.8,396.8 L987.1,396.8 L986.3,396.8 L985.6,396.7 L984.9,396.7 L984.1,396.7 L983.4,396.7 L982.7,396.7 L982.0,396.7 L981.3,396.7 L980.5,396.7 L979.8,396.8 L979.1,396.8 L978.4,396.8 L977.7,396.9 L977.0,396.9 L976.3,396.9 L975.6,397.0 L974.9,397.1 L974.2,397.1 L973.5,397.2 L972.8,397.3 L972.1,397.3 L971.4,397.4 L970.7,397.5 L970.1,397.6 L969.4,397.7 L968.7,397.8 L968.0,397.9 L967.4,398.1 L966.7,398.2 L966.0,398.3 L965.4,398.5 L964.7,398.6 L964.0,398.7 L963.4,398.9 L962.7,399.1 L962.1,399.2 L961.5,399.4 L960.8,399.6 L960.2,399.8 L959.5,400.0 L958.9,400.2 L958.3,400.4 L957.7,400.6 L957.0,400.8 L956.4,401.0 L955.8,401.3 L955.2,401.5 L954.6,401.7 L954.0,402.0 L953.4,402.2 L952.8,402.5 L952.2,402.8 L951.6,403.1 L951.0,403.3 L950.4,403.6 L949.9,403.9 L949.3,404.2 L948.7,404.5 L948.2,404.9 L947.6,405.2 L947.0,405.5 L946.5,405.9 L945.9,406.2 L945.4,406.6 L944.8,406.9 L944.3,407.3 L943.8,407.7 L943.2,408.0 L942.7,408.4 L942.2,408.8 L941.7,409.2 L941.1,409.7 L940.6,410.1 L940.1,410.5 L939.6,410.9 L939.1,411.4 L938.7,411.8 L938.2,412.3 L937.7,412.8 L937.2,413.2 L936.7,413.7 L936.3,414.2 L935.8,414.7 L935.3,415.2 L934.9,415.7 L934.4,416.2 L934.0,416.8 L933.6,417.3 L933.1,417.8 L932.7,418.4 L932.3,419.0 L931.9,419.5 L931.5,420.1 L931.0,420.7 L930.6,421.3 L930.2,421.9 L929.9,422.5 L929.5,423.1 L929.1,423.7 L928.7,424.4 L928.3,425.0 L928.0,425.7 L927.6,426.3 L927.3,427.0 L926.9,427.7 L926.6,428.3 L926.2,429.0 L925.9,429.7 L925.6,430.5 L925.3,431.2 L925.0,431.9 L924.7,432.6 L924.4,433.4 L923.4,435.7 L926.8,437.0 L927.6,434.6 L927.9,433.9 L928.2,433.2 L928.5,432.5 L928.7,431.8 L929.0,431.1 L929.3,430.4 L929.6,429.8 L929.9,429.1 L930.2,428.5 L930.5,427.8 L930.9,427.2 L931.2,426.6 L931.5,425.9 L931.9,425.3 L932.2,424.7 L932.5,424.1 L932.9,423.5 L933.2,423.0 L933.6,422.4 L934.0,421.8 L934.3,421.3 L934.7,420.7 L935.1,420.2 L935.5,419.6 L935.9,419.1 L936.3,418.6 L936.7,418.1 L937.1,417.6 L937.5,417.1 L937.9,416.6 L938.3,416.1 L938.8,415.6 L939.2,415.2 L939.6,414.7 L940.1,414.2 L940.5,413.8 L941.0,413.4 L941.4,412.9 L941.9,412.5 L942.4,412.1 L942.8,411.7 L943.3,411.2 L943.8,410.8 L944.3,410.5 L944.8,410.1 L945.2,409.7 L945.7,409.3 L946.2,408.9 L946.8,408.6 L947.3,408.2 L947.8,407.9 L948.3,407.5 L948.8,407.2 L949.3,406.9 L949.9,406.6 L950.4,406.2 L951.0,405.9 L951.5,405.6 L952.0,405.3 L952.6,405.0 L953.2,404.8 L953.7,404.5 L954.3,404.2 L954.9,403.9 L955.4,403.7 L956.0,403.4 L956.6,403.2 L957.2,402.9 L957.8,402.7 L958.4,402.5 L958.9,402.3 L959.5,402.0 L960.2,401.8 L960.8,401.6 L961.4,401.4 L962.0,401.2 L962.6,401.0 L963.2,400.9 L963.9,400.7 L964.5,400.5 L965.1,400.3 L965.8,400.2 L966.4,400.0 L967.0,399.9 L967.7,399.7 L968.3,399.6 L969.0,399.5 L969.7,399.3 L970.3,399.2 L971.0,399.1 L971.6,399.0 L972.3,398.9 L973.0,398.8 L973.7,398.7 L974.3,398.6 L975.0,398.5 L975.7,398.4 L976.4,398.4 L977.1,398.3 L977.8,398.2 L978.5,398.2 L979.2,398.1 L979.9,398.1 L980.6,398.0 L981.3,398.0 L982.0,398.0 L982.7,397.9 L983.4,397.9 L984.2,397.9 L984.9,397.9 L985.6,397.9 L986.3,397.9 L987.1,397.9 L987.8,397.9 L988.5,397.9 L989.3,397.9 L990.0,397.9 L990.7,397.9 L991.5,398.0 L993.0,398.0 Z" fill="url(#g17)"/><path d="M993.0,446.9 L991.5,446.8 L990.9,446.8 L990.4,446.8 L989.8,446.8 L989.2,446.7 L988.7,446.7 L988.1,446.7 L987.5,446.7 L987.0,446.7 L986.4,446.6 L985.8,446.6 L985.3,446.6 L984.7,446.6 L984.1,446.6 L983.5,446.5 L983.0,446.5 L982.4,446.5 L981.8,446.4 L981.3,446.4 L980.7,446.4 L980.1,446.4 L979.6,446.3 L979.0,446.3 L978.4,446.3 L977.9,446.2 L977.3,446.2 L976.7,446.2 L976.2,446.1 L975.6,446.1 L975.0,446.0 L974.4,446.0 L973.9,445.9 L973.3,445.9 L972.7,445.9 L972.2,445.8 L971.6,445.8 L971.0,445.7 L970.5,445.7 L969.9,445.6 L969.3,445.5 L968.8,445.5 L968.2,445.4 L967.7,445.4 L967.1,445.3 L966.5,445.2 L966.0,445.2 L965.4,445.1 L964.8,445.0 L964.3,445.0 L963.7,444.9 L963.2,444.8 L962.6,444.7 L962.0,444.6 L961.5,444.6 L960.9,444.5 L960.4,444.4 L959.8,444.3 L959.3,444.2 L958.7,444.1 L958.2,444.0 L957.6,443.9 L957.1,443.8 L956.5,443.7 L956.0,443.6 L955.4,443.5 L954.9,443.4 L954.3,443.2 L953.8,443.1 L953.2,443.0 L952.7,442.9 L952.1,442.7 L951.6,442.6 L951.1,442.5 L950.5,442.3 L950.0,442.2 L949.4,442.1 L948.9,441.9 L948.4,441.8 L947.8,441.6 L947.3,441.5 L946.8,441.3 L946.2,441.1 L945.7,441.0 L945.2,440.8 L944.6,440.6 L944.1,440.5 L943.6,440.3 L943.1,440.1 L942.5,439.9 L942.0,439.7 L941.5,439.5 L941.0,439.3 L940.5,439.1 L940.0,438.9 L939.4,438.7 L938.9,438.5 L938.4,438.3 L937.9,438.1 L937.4,437.9 L936.9,437.6 L936.4,437.4 L935.9,437.2 L935.4,436.9 L934.9,436.7 L934.4,436.5 L933.9,436.2 L933.4,436.0 L932.9,435.7 L932.4,435.4 L931.9,435.2 L931.4,434.9 L930.9,434.6 L930.4,434.3 L930.0,434.1 L929.5,433.8 L929.0,433.5 L928.5,433.2 L928.0,432.9 L927.6,432.6 L927.1,432.3 L925.0,430.9 L922.8,434.5 L924.9,435.7 L925.4,436.0 L926.0,436.3 L926.5,436.6 L927.0,436.9 L927.5,437.2 L928.0,437.5 L928.6,437.8 L929.1,438.0 L929.6,438.3 L930.2,438.6 L930.7,438.8 L931.2,439.1 L931.8,439.3 L932.3,439.6 L932.8,439.8 L933.4,440.0 L933.9,440.3 L934.4,440.5 L935.0,440.7 L935.5,440.9 L936.1,441.1 L936.6,441.3 L937.1,441.5 L937.7,441.7 L938.2,441.9 L938.8,442.1 L939.3,442.3 L939.9,442.5 L940.4,442.7 L941.0,442.8 L941.5,443.0 L942.1,443.2 L942.6,443.3 L943.2,443.5 L943.7,443.7 L944.3,443.8 L944.8,444.0 L945.4,444.1 L945.9,444.3 L946.5,444.4 L947.1,444.5 L947.6,444.7 L948.2,444.8 L948.7,444.9 L949.3,445.0 L949.9,445.1 L950.4,445.3 L951.0,445.4 L951.6,445.5 L952.1,445.6 L952.7,445.7 L953.2,445.8 L953.8,445.9 L954.4,446.0 L954.9,446.1 L955.5,446.2 L956.1,446.2 L956.6,446.3 L957.2,446.4 L957.8,446.5 L958.3,446.6 L958.9,446.6 L959.5,446.7 L960.0,446.8 L960.6,446.8 L961.2,446.9 L961.8,447.0 L962.3,447.0 L962.9,447.1 L963.5,447.1 L964.0,447.2 L964.6,447.2 L965.2,447.3 L965.8,447.3 L966.3,447.3 L966.9,447.4 L967.5,447.4 L968.0,447.5 L968.6,447.5 L969.2,447.5 L969.8,447.6 L970.3,447.6 L970.9,447.6 L971.5,447.6 L972.1,447.7 L972.6,447.7 L973.2,447.7 L973.8,447.7 L974.4,447.7 L974.9,447.8 L975.5,447.8 L976.1,447.8 L976.6,447.8 L977.2,447.8 L977.8,447.8 L978.4,447.8 L978.9,447.8 L979.5,447.8 L980.1,447.9 L980.7,447.9 L981.2,447.9 L981.8,447.9 L982.4,447.9 L982.9,447.9 L983.5,447.9 L984.1,447.9 L984.7,447.9 L985.2,447.9 L985.8,447.9 L986.4,447.8 L986.9,447.8 L987.5,447.8 L988.1,447.8 L988.7,447.8 L989.2,447.8 L989.8,447.8 L990.4,447.8 L990.9,447.8 L991.5,447.8 L993.0,447.8 Z" fill="url(#g18)"/><path d="M993.1,496.2 L991.6,496.2 L990.5,496.2 L989.4,496.2 L988.3,496.2 L987.2,496.2 L986.2,496.1 L985.1,496.1 L984.1,496.0 L983.1,496.0 L982.1,495.9 L981.1,495.8 L980.1,495.7 L979.1,495.6 L978.2,495.5 L977.2,495.4 L976.3,495.2 L975.4,495.1 L974.5,494.9 L973.6,494.7 L972.7,494.6 L971.8,494.4 L971.0,494.2 L970.1,494.0 L969.3,493.8 L968.5,493.5 L967.7,493.3 L966.9,493.1 L966.1,492.8 L965.3,492.6 L964.6,492.3 L963.8,492.0 L963.1,491.7 L962.3,491.4 L961.6,491.1 L960.9,490.8 L960.2,490.5 L959.5,490.1 L958.8,489.8 L958.2,489.4 L957.5,489.1 L956.9,488.7 L956.2,488.3 L955.6,488.0 L955.0,487.6 L954.4,487.2 L953.8,486.7 L953.2,486.3 L952.6,485.9 L952.0,485.5 L951.5,485.0 L950.9,484.6 L950.4,484.1 L949.8,483.6 L949.3,483.1 L948.8,482.6 L948.3,482.2 L947.8,481.6 L947.3,481.1 L946.8,480.6 L946.3,480.1 L945.8,479.5 L945.4,479.0 L944.9,478.4 L944.5,477.9 L944.0,477.3 L943.6,476.7 L943.1,476.1 L942.7,475.5 L942.3,474.9 L941.9,474.3 L941.5,473.7 L941.1,473.1 L940.7,472.4 L940.3,471.8 L939.9,471.1 L939.6,470.5 L939.2,469.8 L938.8,469.1 L938.5,468.4 L938.1,467.7 L937.8,467.0 L937.5,466.3 L937.1,465.6 L936.8,464.9 L936.5,464.1 L936.2,463.4 L935.9,462.6 L935.5,461.9 L935.2,461.1 L934.9,460.3 L934.7,459.5 L934.4,458.8 L934.1,458.0 L933.8,457.2 L933.5,456.3 L933.3,455.5 L933.0,454.7 L932.7,453.9 L932.5,453.0 L932.2,452.2 L932.0,451.3 L931.7,450.4 L931.5,449.6 L931.2,448.7 L931.0,447.8 L930.7,446.9 L930.5,446.0 L930.3,445.1 L930.1,444.2 L929.8,443.3 L929.6,442.3 L929.4,441.4 L929.2,440.4 L929.0,439.5 L928.8,438.5 L928.5,437.6 L928.3,436.6 L928.1,435.6 L927.9,434.6 L927.7,433.6 L927.2,431.2 L923.7,431.9 L924.3,434.4 L924.5,435.4 L924.7,436.4 L925.0,437.3 L925.2,438.3 L925.4,439.3 L925.7,440.3 L925.9,441.2 L926.2,442.2 L926.4,443.1 L926.7,444.1 L926.9,445.0 L927.2,445.9 L927.4,446.8 L927.7,447.7 L927.9,448.7 L928.2,449.6 L928.5,450.4 L928.7,451.3 L929.0,452.2 L929.3,453.1 L929.6,453.9 L929.9,454.8 L930.2,455.6 L930.5,456.5 L930.8,457.3 L931.1,458.1 L931.4,459.0 L931.7,459.8 L932.0,460.6 L932.3,461.4 L932.6,462.2 L933.0,462.9 L933.3,463.7 L933.7,464.5 L934.0,465.2 L934.4,466.0 L934.7,466.7 L935.1,467.5 L935.4,468.2 L935.8,468.9 L936.2,469.6 L936.6,470.3 L937.0,471.0 L937.4,471.7 L937.8,472.4 L938.2,473.1 L938.6,473.7 L939.0,474.4 L939.5,475.0 L939.9,475.7 L940.3,476.3 L940.8,476.9 L941.3,477.5 L941.7,478.1 L942.2,478.7 L942.7,479.3 L943.2,479.9 L943.7,480.5 L944.2,481.0 L944.7,481.6 L945.2,482.1 L945.7,482.7 L946.2,483.2 L946.8,483.7 L947.3,484.2 L947.9,484.7 L948.5,485.2 L949.0,485.7 L949.6,486.1 L950.2,486.6 L950.8,487.1 L951.4,487.5 L952.0,487.9 L952.7,488.4 L953.3,488.8 L954.0,489.2 L954.6,489.6 L955.3,490.0 L956.0,490.3 L956.6,490.7 L957.3,491.1 L958.0,491.4 L958.7,491.8 L959.5,492.1 L960.2,492.4 L960.9,492.7 L961.7,493.0 L962.5,493.3 L963.2,493.6 L964.0,493.8 L964.8,494.1 L965.6,494.3 L966.4,494.6 L967.2,494.8 L968.1,495.0 L968.9,495.2 L969.8,495.4 L970.7,495.6 L971.5,495.8 L972.4,496.0 L973.3,496.1 L974.2,496.3 L975.2,496.4 L976.1,496.5 L977.0,496.6 L978.0,496.8 L979.0,496.8 L980.0,496.9 L981.0,497.0 L982.0,497.1 L983.0,497.1 L984.0,497.2 L985.1,497.2 L986.1,497.2 L987.2,497.2 L988.3,497.2 L989.4,497.2 L990.5,497.2 L991.6,497.2 L993.1,497.1 Z" fill="url(#g19)"/><path d="M986.6,542.4 L985.1,542.0 L983.7,541.7 L982.4,541.4 L981.1,541.1 L979.8,540.7 L978.6,540.3 L977.3,539.9 L976.1,539.5 L975.0,539.1 L973.8,538.7 L972.7,538.2 L971.6,537.8 L970.5,537.3 L969.4,536.8 L968.4,536.3 L967.3,535.7 L966.4,535.2 L965.4,534.7 L964.4,534.1 L963.5,533.5 L962.6,532.9 L961.7,532.3 L960.8,531.7 L959.9,531.1 L959.1,530.4 L958.3,529.8 L957.5,529.1 L956.7,528.4 L956.0,527.7 L955.2,527.0 L954.5,526.3 L953.8,525.6 L953.1,524.8 L952.4,524.1 L951.8,523.3 L951.1,522.5 L950.5,521.8 L949.9,521.0 L949.3,520.2 L948.7,519.3 L948.1,518.5 L947.6,517.7 L947.1,516.8 L946.5,516.0 L946.0,515.1 L945.5,514.2 L945.1,513.4 L944.6,512.5 L944.1,511.6 L943.7,510.6 L943.3,509.7 L942.8,508.8 L942.4,507.9 L942.0,506.9 L941.6,505.9 L941.3,505.0 L940.9,504.0 L940.6,503.0 L940.2,502.0 L939.9,501.0 L939.6,500.0 L939.2,499.0 L938.9,498.0 L938.6,497.0 L938.3,496.0 L938.1,494.9 L937.8,493.9 L937.5,492.8 L937.3,491.8 L937.0,490.7 L936.8,489.7 L936.5,488.6 L936.3,487.5 L936.1,486.4 L935.9,485.3 L935.7,484.2 L935.4,483.1 L935.2,482.0 L935.0,480.9 L934.8,479.8 L934.7,478.7 L934.5,477.6 L934.3,476.5 L934.1,475.3 L933.9,474.2 L933.8,473.1 L933.6,471.9 L933.4,470.8 L933.3,469.6 L933.1,468.5 L932.9,467.3 L932.8,466.2 L932.6,465.0 L932.5,463.9 L932.3,462.7 L932.1,461.6 L932.0,460.4 L931.8,459.2 L931.7,458.1 L931.5,456.9 L931.4,455.7 L931.2,454.6 L931.0,453.4 L930.9,452.2 L930.7,451.1 L930.5,449.9 L930.4,448.7 L930.2,447.6 L930.0,446.4 L929.8,445.2 L929.6,444.1 L929.4,442.9 L929.2,441.7 L929.0,440.6 L928.8,439.4 L928.6,438.3 L928.4,437.1 L928.2,435.9 L928.0,434.8 L927.7,433.6 L927.2,431.2 L923.7,431.9 L924.3,434.4 L924.5,435.5 L924.8,436.6 L925.0,437.8 L925.2,438.9 L925.5,440.1 L925.7,441.2 L925.9,442.3 L926.1,443.5 L926.3,444.6 L926.5,445.8 L926.7,446.9 L926.9,448.1 L927.1,449.3 L927.3,450.4 L927.5,451.6 L927.7,452.7 L927.9,453.9 L928.1,455.0 L928.3,456.2 L928.5,457.4 L928.6,458.5 L928.8,459.7 L929.0,460.8 L929.2,462.0 L929.4,463.2 L929.5,464.3 L929.7,465.5 L929.9,466.6 L930.1,467.8 L930.3,468.9 L930.5,470.1 L930.6,471.2 L930.8,472.4 L931.0,473.5 L931.2,474.6 L931.4,475.8 L931.6,476.9 L931.8,478.0 L932.0,479.2 L932.3,480.3 L932.5,481.4 L932.7,482.5 L932.9,483.6 L933.2,484.7 L933.4,485.8 L933.6,486.9 L933.9,488.0 L934.1,489.1 L934.4,490.2 L934.7,491.3 L934.9,492.4 L935.2,493.4 L935.5,494.5 L935.8,495.6 L936.1,496.6 L936.4,497.6 L936.8,498.7 L937.1,499.7 L937.4,500.7 L937.8,501.8 L938.2,502.8 L938.5,503.8 L938.9,504.8 L939.3,505.8 L939.7,506.7 L940.1,507.7 L940.5,508.7 L941.0,509.6 L941.4,510.6 L941.9,511.5 L942.4,512.5 L942.9,513.4 L943.4,514.3 L943.9,515.2 L944.4,516.1 L944.9,517.0 L945.5,517.8 L946.1,518.7 L946.6,519.5 L947.2,520.4 L947.9,521.2 L948.5,522.0 L949.1,522.8 L949.8,523.6 L950.5,524.4 L951.2,525.2 L951.9,526.0 L952.6,526.7 L953.3,527.5 L954.1,528.2 L954.9,528.9 L955.7,529.6 L956.5,530.3 L957.3,530.9 L958.2,531.6 L959.1,532.3 L960.0,532.9 L960.9,533.5 L961.8,534.1 L962.7,534.7 L963.7,535.3 L964.7,535.8 L965.7,536.4 L966.8,536.9 L967.8,537.4 L968.9,537.9 L970.0,538.4 L971.1,538.9 L972.2,539.3 L973.4,539.8 L974.6,540.2 L975.8,540.6 L977.0,541.0 L978.3,541.4 L979.6,541.7 L980.9,542.0 L982.2,542.4 L983.5,542.7 L984.9,543.0 L986.4,543.2 Z" fill="url(#g20)"/><rect x="66.25" y="103.50" width="57.05" height="37.25" rx="5.0" fill="#fff" stroke="#25207c" stroke-width="2.30"/><rect x="33.00" y="190.00" width="90.10" height="36.50" rx="5.0" fill="#fff" stroke="#25207c" stroke-width="2.30"/><rect x="78.00" y="276.25" width="45.25" height="37.25" rx="5.0" fill="#fff" stroke="#25207c" stroke-width="2.30"/><rect x="8.36" y="340.70" width="115.04" height="37.40" rx="5.0" fill="#fff" stroke="#25207c" stroke-width="2.30"/><rect x="49.40" y="421.25" width="73.80" height="36.95" rx="5.0" fill="#fff" stroke="#25207c" stroke-width="2.30"/><rect x="30.90" y="478.90" width="92.30" height="37.40" rx="5.0" fill="#fff" stroke="#25207c" stroke-width="2.30"/><rect x="32.40" y="552.70" width="90.90" height="37.40" rx="5.0" fill="#fff" stroke="#25207c" stroke-width="2.30"/><rect x="274.00" y="235.90" width="87.30" height="50.70" rx="5.5" fill="#fff" stroke="#29298f" stroke-width="2.30"/><rect x="290.20" y="378.50" width="125.80" height="37.70" rx="5.0" fill="#fff" stroke="#7e72a2" stroke-width="2.30"/><rect x="312.90" y="442.20" width="102.90" height="38.40" rx="5.0" fill="#fff" stroke="#7e72a2" stroke-width="2.30"/><rect x="334.20" y="510.80" width="81.70" height="38.40" rx="5.0" fill="#fff" stroke="#7e72a2" stroke-width="2.30"/><rect x="476.10" y="467.50" width="46.20" height="45.50" rx="5.5" fill="#fff" stroke="#7e72a2" stroke-width="2.30"/><rect x="701.10" y="111.80" width="133.20" height="45.30" rx="5.5" fill="#fff" stroke="#3f84b8" stroke-width="2.30"/><rect x="907.60" y="9.67" width="69.15" height="38.53" rx="5.0" fill="#fff" stroke="#3f84b8" stroke-width="2.30"/><rect x="915.10" y="64.90" width="48.90" height="37.40" rx="5.0" fill="#fff" stroke="#3f84b8" stroke-width="2.30"/><rect x="907.50" y="120.90" width="60.30" height="37.40" rx="5.0" fill="#fff" stroke="#3f84b8" stroke-width="2.30"/><rect x="907.40" y="174.50" width="73.50" height="37.80" rx="5.0" fill="#fff" stroke="#3f84b8" stroke-width="2.30"/><rect x="907.40" y="229.40" width="51.20" height="38.80" rx="5.0" fill="#fff" stroke="#3f84b8" stroke-width="2.30"/><rect x="842.80" y="317.70" width="113.90" height="45.80" rx="5.5" fill="#fff" stroke="#9cca44" stroke-width="2.30"/><rect x="1010.25" y="252.00" width="40.00" height="37.75" rx="5.0" fill="#fff" stroke="#9cca44" stroke-width="2.30"/><rect x="1010.00" y="327.40" width="49.00" height="38.80" rx="5.0" fill="#fff" stroke="#9cca44" stroke-width="2.30"/><rect x="833.40" y="410.00" width="91.60" height="45.50" rx="5.5" fill="#fff" stroke="#de7a30" stroke-width="2.30"/><rect x="992.25" y="378.50" width="53.55" height="36.80" rx="5.0" fill="#fff" stroke="#de7a30" stroke-width="2.30"/><rect x="992.00" y="428.00" width="55.50" height="38.60" rx="5.0" fill="#fff" stroke="#de7a30" stroke-width="2.30"/><rect x="992.00" y="478.40" width="56.80" height="37.10" rx="5.0" fill="#fff" stroke="#de7a30" stroke-width="2.30"/><rect x="985.60" y="524.50" width="56.00" height="37.10" rx="5.0" fill="#fff" stroke="#de7a30" stroke-width="2.50"/></svg>

<div id="med">
 <svg width="179.2" height="115.8" viewBox="0 0 179 115" preserveAspectRatio="none">
  <defs>
   <linearGradient id="bg" x1="0" y1="0" x2="0" y2="1">
    <stop offset="0" stop-color="#a8b8f8"/>
    <stop offset="0.12" stop-color="#a9b7f4"/>
    <stop offset="0.35" stop-color="#a9b4ec"/>
    <stop offset="0.50" stop-color="#acb4dc"/>
    <stop offset="0.56" stop-color="#aeb2cc"/>
    <stop offset="0.62" stop-color="#adadc0"/>
    <stop offset="0.80" stop-color="#a9abb6"/>
    <stop offset="1" stop-color="#a9aab0"/>
   </linearGradient>
   <radialGradient id="hg" cx="0.35" cy="0.2" r="0.8">
    <stop offset="0" stop-color="#eef0fb"/>
    <stop offset="0.6" stop-color="#d8dbf4"/>
    <stop offset="1" stop-color="#cdd0ef"/>
   </radialGradient>
   <filter id="bl" x="-20%" y="-20%" width="140%" height="140%"><feGaussianBlur stdDeviation="1.1"/></filter>
   <filter id="bl2" x="-20%" y="-20%" width="140%" height="140%"><feGaussianBlur stdDeviation="0.7"/></filter>
  </defs>
  <rect x="0" y="0" width="179" height="115" fill="url(#bg)"/>
  <g filter="url(#bl)">
   <path d="M140,88 C152,86 166,86 179,88 L179,115 L138,115 Z" fill="#b9bdd9"/>
   <ellipse cx="171" cy="83" rx="9" ry="5" fill="#dcdeee"/>
   <path d="M72,115 C74,104 80,97 92,92 L96,115 Z" fill="#dadcf2"/>
   <path d="M94,70 C108,76 126,78 138,73 L144,115 L84,115 C90,100 94,86 94,70 Z" fill="#cdd0ee"/>
   <path d="M73,42 C71,26 80,11 96,6 C108,3 120,7 127,18 C130,24 131,30 132,34 C134,38 137,41 137,45 C135,48 133,50 134,53 C136,57 138,61 137,65 C128,74 110,76 96,71 C84,66 75,55 73,42 Z" fill="url(#hg)"/>
   <path d="M137,46 C141,40 150,39 158,41 C165,43 169,51 169,60 C170,72 167,84 163,91 C159,97 151,98 145,95 C140,90 138,79 137,67 Z" fill="#bfc3e5"/>
  </g>
  <g filter="url(#bl2)">
   <path d="M84,22 C90,12 100,8 112,10 C102,14 92,20 84,22 Z" fill="#f5f6fd"/>
   <path d="M78,36 C82,28 88,23 95,20 C91,27 85,33 78,36 Z" fill="#eef0fb"/>
   <path d="M90,28 C94,24 99,22 104,23" stroke="#c9cceb" stroke-width="1.2" fill="none"/>
   <path d="M84,40 C87,35 91,32 96,31" stroke="#c9cceb" stroke-width="1.2" fill="none"/>
   <ellipse cx="100" cy="40" rx="4.5" ry="6" fill="#c8cbea"/>
   <path d="M120,31 C123,30 126,32 128,35 C125,36 122,35 120,31 Z" fill="#a9add8"/>
   <path d="M126,18 C129,24 131,30 132,34 C134,38 137,41 137,45 C135,48 133,50 134,53 C136,57 138,61 137,65" stroke="#a4a9d4" stroke-width="1.1" fill="none"/>
   <path d="M104,72 C114,76 128,76 137,70" stroke="#bdc1e3" stroke-width="1.6" fill="none"/>
   <path d="M94,74 C92,86 89,100 86,115" stroke="#b4b8de" stroke-width="1.6" fill="none"/>
   <path d="M138,45 C143,40 160,40 166,45 C169,48 167,52 163,53 C156,53 146,52 139,52 Z" fill="#dfe1f6"/>
   <path d="M138,55 C145,52 160,53 167,57 C170,60 168,64 164,65 C156,65 146,64 139,64 Z" fill="#dcdff5"/>
   <path d="M139,67 C146,64 159,65 165,69 C168,72 166,76 162,77 C155,77 146,76 140,76 Z" fill="#d9dcf4"/>
   <path d="M140,79 C146,76 157,77 162,81 C165,84 163,88 159,89 C153,89 146,88 141,88 Z" fill="#d6d9f2"/>
   <path d="M114,82 C117,93 119,104 119,115" stroke="#c0c4e6" stroke-width="3" fill="none"/>
   <ellipse cx="147.6" cy="13.4" rx="7.4" ry="9.6" fill="#f3f4fb"/>
   <path d="M140.5,16 C142,24 145,29 147.3,32 C149.5,29 152.5,24 154.6,16 Z" fill="#e9ebf9"/>
   <rect x="145.5" y="31" width="5" height="12" fill="#cdd0ef"/>
   <ellipse cx="146" cy="8" rx="3" ry="2.5" fill="#fbfbf0"/>
  </g>
 </svg>
 
</div>

<div class="t" style="left:74.82px;top:108.71px;font-size:17.67px;transform:scaleX(0.8025);">Peace</div>
<div class="t" style="left:41.98px;top:194.41px;font-size:18.72px;transform:scaleX(0.7697);">Knowledge</div>
<div class="t" style="left:84.07px;top:280.67px;font-size:18.44px;transform:scaleX(0.7798);">Love</div>
<div class="t" style="left:18.74px;top:345.39px;font-size:18.30px;transform:scaleX(0.7873);">Understanding</div>
<div class="t" style="left:58.09px;top:426.68px;font-size:17.32px;transform:scaleX(0.8208);">Patience</div>
<div class="t" style="left:40.22px;top:484.00px;font-size:17.74px;transform:scaleX(0.7968);">Gentleness</div>
<div class="t" style="left:41.11px;top:557.14px;font-size:18.02px;transform:scaleX(0.7877);">Self control</div>
<div class="t" style="left:298.10px;top:242.62px;font-size:23.46px;transform:scaleX(0.7792);">Gain</div>
<div class="t" style="left:302.01px;top:383.62px;font-size:18.16px;transform:scaleX(0.7884);">Spiritual Growth</div>
<div class="t" style="left:323.94px;top:448.17px;font-size:17.88px;transform:scaleX(0.7968);">Moral Health</div>
<div class="t" style="left:343.43px;top:516.54px;font-size:18.02px;transform:scaleX(0.7933);">Character</div>
<div class="t" style="left:483.06px;top:472.13px;font-size:24.44px;transform:scaleX(0.7847);">Aim</div>
<div class="t" style="left:713.28px;top:115.09px;font-size:23.04px;transform:scaleX(0.8012);">Contemplate</div>
<div class="t" style="left:915.60px;top:14.32px;font-size:17.60px;transform:scaleX(0.7994);">Statutes</div>
<div class="t" style="left:923.16px;top:68.87px;font-size:18.44px;transform:scaleX(0.8028);">Work</div>
<div class="t" style="left:914.98px;top:125.65px;font-size:17.46px;transform:scaleX(0.8267);">Doings</div>
<div class="t" style="left:915.80px;top:179.60px;font-size:17.74px;transform:scaleX(0.8115);">Precepts</div>
<div class="t" style="left:915.06px;top:235.09px;font-size:18.30px;transform:scaleX(0.8086);">Ways</div>
<div class="t" style="left:853.72px;top:323.32px;font-size:22.91px;transform:scaleX(0.8024);">Frequency</div>
<div class="t" style="left:1017.83px;top:257.70px;font-size:17.74px;transform:scaleX(0.7940);">Day</div>
<div class="t" style="left:1017.84px;top:332.87px;font-size:18.44px;transform:scaleX(0.7995);">Night</div>
<div class="t" style="left:844.37px;top:414.54px;font-size:23.32px;transform:scaleX(0.7895);">Observe</div>
<div class="t" style="left:999.90px;top:382.84px;font-size:18.58px;transform:scaleX(0.7596);">Listen</div>
<div class="t" style="left:999.96px;top:433.52px;font-size:18.16px;transform:scaleX(0.8032);">Watch</div>
<div class="t" style="left:999.46px;top:482.47px;font-size:18.44px;transform:scaleX(0.7876);">Follow</div>
<div class="t" style="left:993.19px;top:529.83px;font-size:14.94px;transform:scaleX(1.0253);color:#080808;-webkit-text-stroke:0.3px #080808;">Study</div>
<div class="t" id="medt" style="left:531.95px;top:279.35px;font-size:27.51px;transform:scaleX(0.7956);font-weight:bold;color:#15182a;-webkit-text-stroke:0.7px #15182a;">Meditate</div>
</body></html>
